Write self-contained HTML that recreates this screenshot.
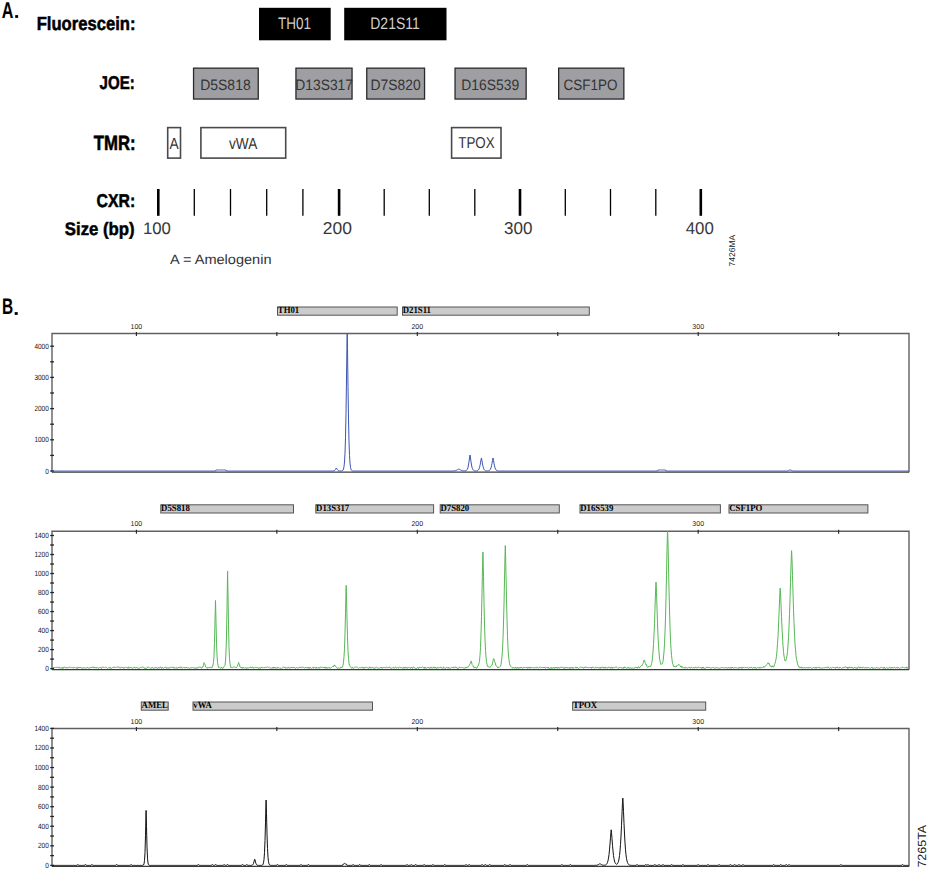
<!DOCTYPE html><html><head><meta charset="utf-8"><style>
html,body{margin:0;padding:0;background:#fff;width:929px;height:887px;overflow:hidden}
svg{display:block}
</style></head><body>
<svg style="text-rendering:geometricPrecision" width="929" height="887" viewBox="0 0 929 887">
<rect width="929" height="887" fill="#fff"/>

<rect x="15.2" y="15.1" width="2.9" height="2.8" fill="#000"/>
<rect x="14.7" y="312.1" width="3.0" height="2.8" fill="#000"/>
<rect x="259" y="7.8" width="71.69999999999999" height="32.5" fill="#000"/>
<rect x="344.2" y="7.8" width="102.30000000000001" height="32.5" fill="#000"/>
<rect x="193.55" y="68.15" width="64.69999999999997" height="30.900000000000002" fill="#9f9fa3" stroke="#2a2a2a" stroke-width="1.3"/>
<rect x="295.95" y="68.15" width="56.09999999999998" height="30.900000000000002" fill="#9f9fa3" stroke="#2a2a2a" stroke-width="1.3"/>
<rect x="366.75" y="68.15" width="57.79999999999997" height="30.900000000000002" fill="#9f9fa3" stroke="#2a2a2a" stroke-width="1.3"/>
<rect x="455.04999999999995" y="68.15" width="71.09999999999998" height="30.900000000000002" fill="#9f9fa3" stroke="#2a2a2a" stroke-width="1.3"/>
<rect x="558.65" y="68.15" width="65.2" height="30.900000000000002" fill="#9f9fa3" stroke="#2a2a2a" stroke-width="1.3"/>
<rect x="167.70000000000002" y="127.6" width="12.800000000000006" height="30.500000000000007" fill="#fff" stroke="#4a4a4a" stroke-width="1.6"/>
<rect x="200.9" y="127.6" width="84.80000000000001" height="30.500000000000007" fill="#fff" stroke="#4a4a4a" stroke-width="1.6"/>
<rect x="451.6" y="127.6" width="49.4" height="30.500000000000007" fill="#fff" stroke="#4a4a4a" stroke-width="1.6"/>
<line x1="158.3" y1="189.0" x2="158.3" y2="215.8" stroke="#000" stroke-width="2.6"/>
<line x1="194.3" y1="189.0" x2="194.3" y2="215.8" stroke="#000" stroke-width="1.3"/>
<line x1="230.5" y1="189.0" x2="230.5" y2="215.8" stroke="#000" stroke-width="1.3"/>
<line x1="266.7" y1="189.0" x2="266.7" y2="215.8" stroke="#000" stroke-width="1.3"/>
<line x1="302.9" y1="189.0" x2="302.9" y2="215.8" stroke="#000" stroke-width="1.3"/>
<line x1="339.1" y1="189.0" x2="339.1" y2="215.8" stroke="#000" stroke-width="2.6"/>
<line x1="384.2" y1="189.0" x2="384.2" y2="215.8" stroke="#000" stroke-width="1.3"/>
<line x1="429.3" y1="189.0" x2="429.3" y2="215.8" stroke="#000" stroke-width="1.3"/>
<line x1="474.8" y1="189.0" x2="474.8" y2="215.8" stroke="#000" stroke-width="1.3"/>
<line x1="520.0" y1="189.0" x2="520.0" y2="215.8" stroke="#000" stroke-width="2.6"/>
<line x1="565.3" y1="189.0" x2="565.3" y2="215.8" stroke="#000" stroke-width="1.3"/>
<line x1="610.5" y1="189.0" x2="610.5" y2="215.8" stroke="#000" stroke-width="1.3"/>
<line x1="655.8" y1="189.0" x2="655.8" y2="215.8" stroke="#000" stroke-width="1.3"/>
<line x1="700.8" y1="189.0" x2="700.8" y2="215.8" stroke="#000" stroke-width="2.6"/>
<rect x="277.5" y="307.0" width="119.69999999999999" height="8.2" fill="#cbcbcb" stroke="#555" stroke-width="1"/>
<text font-family="Liberation Serif, serif" font-size="9.5" font-weight="bold" fill="#000" transform="translate(277.8 313.4) scale(0.92 1)">TH01</text>
<rect x="402.5" y="307.0" width="186.79999999999995" height="8.2" fill="#cbcbcb" stroke="#555" stroke-width="1"/>
<text font-family="Liberation Serif, serif" font-size="9.5" font-weight="bold" fill="#000" transform="translate(402.8 313.4) scale(0.92 1)">D21S11</text>
<path d="M52 472.3 L52 333.5 L909 333.5 L909 472.3" fill="none" stroke="#606060" stroke-width="1.4"/>
<line x1="136.4" y1="331.9" x2="136.4" y2="335.9" stroke="#222" stroke-width="1.1"/>
<line x1="276.85" y1="331.9" x2="276.85" y2="335.9" stroke="#222" stroke-width="1.1"/>
<line x1="417.30000000000007" y1="331.9" x2="417.30000000000007" y2="335.9" stroke="#222" stroke-width="1.1"/>
<line x1="557.75" y1="331.9" x2="557.75" y2="335.9" stroke="#222" stroke-width="1.1"/>
<line x1="698.2" y1="331.9" x2="698.2" y2="335.9" stroke="#222" stroke-width="1.1"/>
<line x1="838.65" y1="331.9" x2="838.65" y2="335.9" stroke="#222" stroke-width="1.1"/>
<text font-family="Liberation Sans, sans-serif" font-size="7" fill="#222" text-anchor="middle" x="136.4" y="328.5">100</text>
<text font-family="Liberation Sans, sans-serif" font-size="7" fill="#222" text-anchor="middle" x="417.30000000000007" y="328.5">200</text>
<text font-family="Liberation Sans, sans-serif" font-size="7" fill="#222" text-anchor="middle" x="698.2" y="328.5">300</text>
<line x1="50.2" y1="471.0" x2="54" y2="471.0" stroke="#222" stroke-width="1.3"/>
<text font-family="Liberation Sans, sans-serif" font-size="7.5" fill="#111" text-anchor="end" transform="translate(48.8 473.5) scale(0.86 1)">0</text>
<line x1="50.2" y1="439.8" x2="54" y2="439.8" stroke="#222" stroke-width="1.3"/>
<text font-family="Liberation Sans, sans-serif" font-size="7.5" fill="#111" text-anchor="end" transform="translate(48.8 442.3) scale(0.86 1)">1000</text>
<line x1="50.2" y1="408.6" x2="54" y2="408.6" stroke="#222" stroke-width="1.3"/>
<text font-family="Liberation Sans, sans-serif" font-size="7.5" fill="#111" text-anchor="end" transform="translate(48.8 411.1) scale(0.86 1)">2000</text>
<line x1="50.2" y1="377.4" x2="54" y2="377.4" stroke="#222" stroke-width="1.3"/>
<text font-family="Liberation Sans, sans-serif" font-size="7.5" fill="#111" text-anchor="end" transform="translate(48.8 379.9) scale(0.86 1)">3000</text>
<line x1="50.2" y1="346.2" x2="54" y2="346.2" stroke="#222" stroke-width="1.3"/>
<text font-family="Liberation Sans, sans-serif" font-size="7.5" fill="#111" text-anchor="end" transform="translate(48.8 348.7) scale(0.86 1)">4000</text>
<line x1="50.2" y1="455.4" x2="54" y2="455.4" stroke="#222" stroke-width="1.3"/>
<line x1="50.2" y1="424.2" x2="54" y2="424.2" stroke="#222" stroke-width="1.3"/>
<line x1="50.2" y1="393.0" x2="54" y2="393.0" stroke="#222" stroke-width="1.3"/>
<line x1="50.2" y1="361.8" x2="54" y2="361.8" stroke="#222" stroke-width="1.3"/>
<line x1="52" y1="472.1" x2="909" y2="472.1" stroke="#3a3a3a" stroke-width="1.1"/>
<polyline fill="none" stroke="#3b55b0" stroke-width="1" points="52.50,471.00 53.00,471.00 53.50,471.00 54.00,471.00 54.50,471.00 55.00,471.00 55.50,471.00 56.00,471.00 56.50,471.00 57.00,471.00 57.50,471.00 58.00,471.00 58.50,471.00 59.00,471.00 59.50,471.00 60.00,471.00 60.50,471.00 61.00,471.00 61.50,471.00 62.00,471.00 62.50,471.00 63.00,471.00 63.50,471.00 64.00,471.00 64.50,471.00 65.00,471.00 65.50,471.00 66.00,471.00 66.50,471.00 67.00,471.00 67.50,471.00 68.00,471.00 68.50,471.00 69.00,471.00 69.50,471.00 70.00,471.00 70.50,471.00 71.00,471.00 71.50,471.00 72.00,471.00 72.50,471.00 73.00,471.00 73.50,471.00 74.00,471.00 74.50,471.00 75.00,471.00 75.50,471.00 76.00,471.00 76.50,471.00 77.00,471.00 77.50,471.00 78.00,471.00 78.50,471.00 79.00,471.00 79.50,471.00 80.00,471.00 80.50,471.00 81.00,471.00 81.50,471.00 82.00,471.00 82.50,471.00 83.00,471.00 83.50,471.00 84.00,471.00 84.50,471.00 85.00,471.00 85.50,471.00 86.00,471.00 86.50,471.00 87.00,471.00 87.50,471.00 88.00,471.00 88.50,471.00 89.00,471.00 89.50,471.00 90.00,471.00 90.50,471.00 91.00,471.00 91.50,471.00 92.00,471.00 92.50,471.00 93.00,471.00 93.50,471.00 94.00,471.00 94.50,471.00 95.00,471.00 95.50,471.00 96.00,471.00 96.50,471.00 97.00,471.00 97.50,471.00 98.00,471.00 98.50,471.00 99.00,471.00 99.50,471.00 100.00,471.00 100.50,471.00 101.00,471.00 101.50,471.00 102.00,471.00 102.50,471.00 103.00,471.00 103.50,471.00 104.00,471.00 104.50,471.00 105.00,471.00 105.50,471.00 106.00,471.00 106.50,471.00 107.00,471.00 107.50,471.00 108.00,471.00 108.50,471.00 109.00,471.00 109.50,471.00 110.00,471.00 110.50,471.00 111.00,471.00 111.50,471.00 112.00,471.00 112.50,471.00 113.00,471.00 113.50,471.00 114.00,471.00 114.50,471.00 115.00,471.00 115.50,471.00 116.00,471.00 116.50,471.00 117.00,471.00 117.50,471.00 118.00,471.00 118.50,471.00 119.00,471.00 119.50,471.00 120.00,471.00 120.50,471.00 121.00,471.00 121.50,471.00 122.00,471.00 122.50,471.00 123.00,471.00 123.50,471.00 124.00,471.00 124.50,471.00 125.00,471.00 125.50,471.00 126.00,471.00 126.50,471.00 127.00,471.00 127.50,471.00 128.00,471.00 128.50,471.00 129.00,471.00 129.50,471.00 130.00,471.00 130.50,471.00 131.00,471.00 131.50,471.00 132.00,471.00 132.50,471.00 133.00,471.00 133.50,471.00 134.00,471.00 134.50,471.00 135.00,471.00 135.50,471.00 136.00,471.00 136.50,471.00 137.00,471.00 137.50,471.00 138.00,471.00 138.50,471.00 139.00,471.00 139.50,471.00 140.00,471.00 140.50,471.00 141.00,471.00 141.50,471.00 142.00,471.00 142.50,471.00 143.00,471.00 143.50,471.00 144.00,471.00 144.50,471.00 145.00,471.00 145.50,471.00 146.00,471.00 146.50,471.00 147.00,471.00 147.50,471.00 148.00,471.00 148.50,471.00 149.00,471.00 149.50,471.00 150.00,471.00 150.50,471.00 151.00,471.00 151.50,471.00 152.00,471.00 152.50,471.00 153.00,471.00 153.50,471.00 154.00,471.00 154.50,471.00 155.00,471.00 155.50,471.00 156.00,471.00 156.50,471.00 157.00,471.00 157.50,471.00 158.00,471.00 158.50,471.00 159.00,471.00 159.50,471.00 160.00,471.00 160.50,471.00 161.00,471.00 161.50,471.00 162.00,471.00 162.50,471.00 163.00,471.00 163.50,471.00 164.00,471.00 164.50,471.00 165.00,471.00 165.50,471.00 166.00,471.00 166.50,471.00 167.00,471.00 167.50,471.00 168.00,471.00 168.50,471.00 169.00,471.00 169.50,471.00 170.00,471.00 170.50,471.00 171.00,471.00 171.50,471.00 172.00,471.00 172.50,471.00 173.00,471.00 173.50,471.00 174.00,471.00 174.50,471.00 175.00,471.00 175.50,471.00 176.00,471.00 176.50,471.00 177.00,471.00 177.50,471.00 178.00,471.00 178.50,471.00 179.00,471.00 179.50,471.00 180.00,471.00 180.50,471.00 181.00,471.00 181.50,471.00 182.00,471.00 182.50,471.00 183.00,471.00 183.50,471.00 184.00,471.00 184.50,471.00 185.00,471.00 185.50,471.00 186.00,471.00 186.50,471.00 187.00,471.00 187.50,471.00 188.00,471.00 188.50,471.00 189.00,471.00 189.50,471.00 190.00,471.00 190.50,471.00 191.00,471.00 191.50,471.00 192.00,471.00 192.50,471.00 193.00,471.00 193.50,471.00 194.00,471.00 194.50,471.00 195.00,471.00 195.50,471.00 196.00,471.00 196.50,471.00 197.00,471.00 197.50,471.00 198.00,471.00 198.50,471.00 199.00,471.00 199.50,471.00 200.00,471.00 200.50,471.00 201.00,471.00 201.50,471.00 202.00,471.00 202.50,471.00 203.00,471.00 203.50,471.00 204.00,471.00 204.50,471.00 205.00,471.00 205.50,471.00 206.00,471.00 206.50,471.00 207.00,471.00 207.50,471.00 208.00,471.00 208.50,471.00 209.00,471.00 209.50,471.00 210.00,471.00 210.50,471.00 211.00,471.00 211.50,471.00 212.00,471.00 212.50,471.00 213.00,471.00 213.50,471.00 214.00,471.00 214.50,471.00 215.00,471.00 215.50,471.00 216.00,470.00 216.50,470.00 217.00,470.00 217.50,470.00 218.00,470.00 218.50,470.00 219.00,470.00 219.50,470.00 220.00,470.00 220.50,470.00 221.00,470.00 221.50,470.00 222.00,470.00 222.50,470.00 223.00,470.00 223.50,470.00 224.00,470.00 224.50,470.00 225.00,470.00 225.50,470.00 226.00,470.00 226.50,471.00 227.00,471.00 227.50,471.00 228.00,471.00 228.50,471.00 229.00,471.00 229.50,471.00 230.00,471.00 230.50,471.00 231.00,471.00 231.50,471.00 232.00,471.00 232.50,471.00 233.00,471.00 233.50,471.00 234.00,471.00 234.50,471.00 235.00,471.00 235.50,471.00 236.00,471.00 236.50,471.00 237.00,471.00 237.50,471.00 238.00,471.00 238.50,471.00 239.00,471.00 239.50,471.00 240.00,471.00 240.50,471.00 241.00,471.00 241.50,471.00 242.00,471.00 242.50,471.00 243.00,471.00 243.50,471.00 244.00,471.00 244.50,471.00 245.00,471.00 245.50,471.00 246.00,471.00 246.50,471.00 247.00,471.00 247.50,471.00 248.00,471.00 248.50,471.00 249.00,471.00 249.50,471.00 250.00,471.00 250.50,471.00 251.00,471.00 251.50,471.00 252.00,471.00 252.50,471.00 253.00,471.00 253.50,471.00 254.00,471.00 254.50,471.00 255.00,471.00 255.50,471.00 256.00,471.00 256.50,471.00 257.00,471.00 257.50,471.00 258.00,471.00 258.50,471.00 259.00,471.00 259.50,471.00 260.00,471.00 260.50,471.00 261.00,471.00 261.50,471.00 262.00,471.00 262.50,471.00 263.00,471.00 263.50,471.00 264.00,471.00 264.50,471.00 265.00,471.00 265.50,471.00 266.00,471.00 266.50,471.00 267.00,471.00 267.50,471.00 268.00,471.00 268.50,471.00 269.00,471.00 269.50,471.00 270.00,471.00 270.50,471.00 271.00,471.00 271.50,471.00 272.00,471.00 272.50,471.00 273.00,471.00 273.50,471.00 274.00,471.00 274.50,471.00 275.00,471.00 275.50,471.00 276.00,471.00 276.50,471.00 277.00,471.00 277.50,471.00 278.00,471.00 278.50,471.00 279.00,471.00 279.50,471.00 280.00,471.00 280.50,471.00 281.00,471.00 281.50,471.00 282.00,471.00 282.50,471.00 283.00,471.00 283.50,471.00 284.00,471.00 284.50,471.00 285.00,471.00 285.50,471.00 286.00,471.00 286.50,471.00 287.00,471.00 287.50,471.00 288.00,471.00 288.50,471.00 289.00,471.00 289.50,471.00 290.00,471.00 290.50,471.00 291.00,471.00 291.50,471.00 292.00,471.00 292.50,471.00 293.00,471.00 293.50,471.00 294.00,471.00 294.50,471.00 295.00,471.00 295.50,471.00 296.00,471.00 296.50,471.00 297.00,471.00 297.50,471.00 298.00,471.00 298.50,471.00 299.00,471.00 299.50,471.00 300.00,471.00 300.50,471.00 301.00,471.00 301.50,471.00 302.00,471.00 302.50,471.00 303.00,471.00 303.50,471.00 304.00,471.00 304.50,471.00 305.00,471.00 305.50,471.00 306.00,471.00 306.50,471.00 307.00,471.00 307.50,471.00 308.00,471.00 308.50,471.00 309.00,471.00 309.50,471.00 310.00,471.00 310.50,471.00 311.00,471.00 311.50,471.00 312.00,471.00 312.50,471.00 313.00,471.00 313.50,471.00 314.00,471.00 314.50,471.00 315.00,471.00 315.50,471.00 316.00,471.00 316.50,471.00 317.00,471.00 317.50,471.00 318.00,471.00 318.50,471.00 319.00,471.00 319.50,471.00 320.00,471.00 320.50,471.00 321.00,471.00 321.50,471.00 322.00,471.00 322.50,471.00 323.00,471.00 323.50,471.00 324.00,471.00 324.50,471.00 325.00,471.00 325.50,471.00 326.00,471.00 326.50,471.00 327.00,471.00 327.50,471.00 328.00,471.00 328.50,471.00 329.00,471.00 329.50,471.00 330.00,471.00 330.50,471.00 331.00,471.00 331.50,471.00 332.00,470.99 332.50,470.98 333.00,470.96 333.50,470.90 334.00,470.78 334.50,470.53 335.00,470.07 335.50,469.34 336.00,468.42 336.30,468.00 336.50,468.24 337.00,469.17 337.50,469.95 338.00,470.45 338.50,470.74 339.00,470.88 339.50,470.95 340.00,470.98 340.50,470.98 341.00,470.98 341.50,470.94 342.00,470.85 342.50,470.63 343.00,470.13 343.50,469.02 344.00,466.67 344.50,461.97 345.00,453.16 345.50,437.76 346.00,413.27 346.50,379.04 347.00,341.59 347.20,333.50 347.50,348.48 348.00,386.53 348.50,418.98 349.00,441.50 349.50,455.36 350.00,463.18 350.50,467.28 351.00,469.31 351.50,470.27 352.00,470.69 352.50,470.88 353.00,470.95 353.50,470.98 354.00,470.99 354.50,471.00 355.00,471.00 355.50,471.00 356.00,471.00 356.50,471.00 357.00,471.00 357.50,471.00 358.00,471.00 358.50,471.00 359.00,471.00 359.50,471.00 360.00,471.00 360.50,471.00 361.00,471.00 361.50,471.00 362.00,471.00 362.50,471.00 363.00,471.00 363.50,471.00 364.00,471.00 364.50,471.00 365.00,471.00 365.50,471.00 366.00,471.00 366.50,471.00 367.00,471.00 367.50,471.00 368.00,471.00 368.50,471.00 369.00,471.00 369.50,471.00 370.00,471.00 370.50,471.00 371.00,471.00 371.50,471.00 372.00,471.00 372.50,471.00 373.00,471.00 373.50,471.00 374.00,471.00 374.50,471.00 375.00,471.00 375.50,471.00 376.00,471.00 376.50,471.00 377.00,471.00 377.50,471.00 378.00,471.00 378.50,471.00 379.00,471.00 379.50,471.00 380.00,471.00 380.50,471.00 381.00,471.00 381.50,471.00 382.00,471.00 382.50,471.00 383.00,471.00 383.50,471.00 384.00,471.00 384.50,471.00 385.00,471.00 385.50,471.00 386.00,471.00 386.50,471.00 387.00,471.00 387.50,471.00 388.00,471.00 388.50,471.00 389.00,471.00 389.50,471.00 390.00,471.00 390.50,471.00 391.00,471.00 391.50,471.00 392.00,471.00 392.50,471.00 393.00,471.00 393.50,471.00 394.00,471.00 394.50,471.00 395.00,471.00 395.50,471.00 396.00,471.00 396.50,471.00 397.00,471.00 397.50,471.00 398.00,471.00 398.50,471.00 399.00,471.00 399.50,471.00 400.00,471.00 400.50,471.00 401.00,471.00 401.50,471.00 402.00,471.00 402.50,471.00 403.00,471.00 403.50,471.00 404.00,471.00 404.50,471.00 405.00,471.00 405.50,471.00 406.00,471.00 406.50,471.00 407.00,471.00 407.50,471.00 408.00,471.00 408.50,471.00 409.00,471.00 409.50,471.00 410.00,471.00 410.50,471.00 411.00,471.00 411.50,471.00 412.00,471.00 412.50,471.00 413.00,471.00 413.50,471.00 414.00,471.00 414.50,471.00 415.00,471.00 415.50,471.00 416.00,471.00 416.50,471.00 417.00,471.00 417.50,471.00 418.00,471.00 418.50,471.00 419.00,471.00 419.50,471.00 420.00,471.00 420.50,471.00 421.00,471.00 421.50,471.00 422.00,471.00 422.50,471.00 423.00,471.00 423.50,471.00 424.00,471.00 424.50,471.00 425.00,471.00 425.50,471.00 426.00,471.00 426.50,471.00 427.00,471.00 427.50,471.00 428.00,471.00 428.50,471.00 429.00,471.00 429.50,471.00 430.00,471.00 430.50,471.00 431.00,471.00 431.50,471.00 432.00,471.00 432.50,471.00 433.00,471.00 433.50,471.00 434.00,471.00 434.50,471.00 435.00,471.00 435.50,471.00 436.00,471.00 436.50,471.00 437.00,471.00 437.50,471.00 438.00,471.00 438.50,471.00 439.00,471.00 439.50,471.00 440.00,471.00 440.50,471.00 441.00,471.00 441.50,471.00 442.00,471.00 442.50,471.00 443.00,471.00 443.50,471.00 444.00,471.00 444.50,471.00 445.00,471.00 445.50,471.00 446.00,471.00 446.50,471.00 447.00,471.00 447.50,471.00 448.00,471.00 448.50,471.00 449.00,471.00 449.50,471.00 450.00,471.00 450.50,470.99 451.00,470.99 451.50,470.98 452.00,470.98 452.50,470.96 453.00,470.94 453.50,470.91 454.00,470.86 454.50,470.80 455.00,470.71 455.50,470.59 456.00,470.44 456.50,470.24 457.00,469.99 457.50,469.70 458.00,469.39 458.50,469.11 458.80,469.00 459.00,469.06 459.50,469.33 460.00,469.64 460.50,469.93 461.00,470.19 461.50,470.40 462.00,470.56 462.50,470.69 463.00,470.78 463.50,470.85 464.00,470.88 464.50,470.90 465.00,470.88 465.50,470.80 466.00,470.65 466.50,470.34 467.00,469.78 467.50,468.83 468.00,467.30 468.50,464.98 469.00,461.81 469.50,458.03 470.00,455.00 470.50,458.03 471.00,461.81 471.50,464.99 472.00,467.30 472.50,468.84 473.00,469.79 473.50,470.35 474.00,470.66 474.50,470.83 475.00,470.91 475.50,470.94 476.00,470.94 476.50,470.91 477.00,470.82 477.50,470.66 478.00,470.36 478.50,469.83 479.00,468.95 479.50,467.57 480.00,465.54 480.50,462.86 481.00,459.81 481.40,458.00 481.50,458.28 482.00,461.03 482.50,464.00 483.00,466.44 483.50,468.19 484.00,469.35 484.50,470.07 485.00,470.50 485.50,470.74 486.00,470.86 486.50,470.93 487.00,470.95 487.50,470.94 488.00,470.91 488.50,470.83 489.00,470.67 489.50,470.39 490.00,469.90 490.50,469.08 491.00,467.79 491.50,465.89 492.00,463.35 492.50,460.36 493.00,458.00 493.50,460.36 494.00,463.35 494.50,465.89 495.00,467.79 495.50,469.08 496.00,469.90 496.50,470.39 497.00,470.67 497.50,470.83 498.00,470.92 498.50,470.96 499.00,470.98 499.50,470.99 500.00,471.00 500.50,471.00 501.00,471.00 501.50,471.00 502.00,471.00 502.50,471.00 503.00,471.00 503.50,471.00 504.00,471.00 504.50,471.00 505.00,471.00 505.50,471.00 506.00,471.00 506.50,471.00 507.00,471.00 507.50,471.00 508.00,471.00 508.50,471.00 509.00,471.00 509.50,471.00 510.00,471.00 510.50,471.00 511.00,471.00 511.50,471.00 512.00,471.00 512.50,471.00 513.00,471.00 513.50,471.00 514.00,471.00 514.50,471.00 515.00,471.00 515.50,471.00 516.00,471.00 516.50,471.00 517.00,471.00 517.50,471.00 518.00,471.00 518.50,471.00 519.00,471.00 519.50,471.00 520.00,471.00 520.50,471.00 521.00,471.00 521.50,471.00 522.00,471.00 522.50,471.00 523.00,471.00 523.50,471.00 524.00,471.00 524.50,471.00 525.00,471.00 525.50,471.00 526.00,471.00 526.50,471.00 527.00,471.00 527.50,471.00 528.00,471.00 528.50,471.00 529.00,471.00 529.50,471.00 530.00,471.00 530.50,471.00 531.00,471.00 531.50,471.00 532.00,471.00 532.50,471.00 533.00,471.00 533.50,471.00 534.00,471.00 534.50,471.00 535.00,471.00 535.50,471.00 536.00,471.00 536.50,471.00 537.00,471.00 537.50,471.00 538.00,471.00 538.50,471.00 539.00,471.00 539.50,471.00 540.00,471.00 540.50,471.00 541.00,471.00 541.50,471.00 542.00,471.00 542.50,471.00 543.00,471.00 543.50,471.00 544.00,471.00 544.50,471.00 545.00,471.00 545.50,471.00 546.00,471.00 546.50,471.00 547.00,471.00 547.50,471.00 548.00,471.00 548.50,471.00 549.00,471.00 549.50,471.00 550.00,471.00 550.50,471.00 551.00,471.00 551.50,471.00 552.00,471.00 552.50,471.00 553.00,471.00 553.50,471.00 554.00,471.00 554.50,471.00 555.00,471.00 555.50,471.00 556.00,471.00 556.50,471.00 557.00,471.00 557.50,471.00 558.00,471.00 558.50,471.00 559.00,471.00 559.50,471.00 560.00,471.00 560.50,471.00 561.00,471.00 561.50,471.00 562.00,471.00 562.50,471.00 563.00,471.00 563.50,471.00 564.00,471.00 564.50,471.00 565.00,471.00 565.50,471.00 566.00,471.00 566.50,471.00 567.00,471.00 567.50,471.00 568.00,471.00 568.50,471.00 569.00,471.00 569.50,471.00 570.00,471.00 570.50,471.00 571.00,471.00 571.50,471.00 572.00,471.00 572.50,471.00 573.00,471.00 573.50,471.00 574.00,471.00 574.50,471.00 575.00,471.00 575.50,471.00 576.00,471.00 576.50,471.00 577.00,471.00 577.50,471.00 578.00,471.00 578.50,471.00 579.00,471.00 579.50,471.00 580.00,471.00 580.50,471.00 581.00,471.00 581.50,471.00 582.00,471.00 582.50,471.00 583.00,471.00 583.50,471.00 584.00,471.00 584.50,471.00 585.00,471.00 585.50,471.00 586.00,471.00 586.50,471.00 587.00,471.00 587.50,471.00 588.00,471.00 588.50,471.00 589.00,471.00 589.50,471.00 590.00,471.00 590.50,471.00 591.00,471.00 591.50,471.00 592.00,471.00 592.50,471.00 593.00,471.00 593.50,471.00 594.00,471.00 594.50,471.00 595.00,471.00 595.50,471.00 596.00,471.00 596.50,471.00 597.00,471.00 597.50,471.00 598.00,471.00 598.50,471.00 599.00,471.00 599.50,471.00 600.00,471.00 600.50,471.00 601.00,471.00 601.50,471.00 602.00,471.00 602.50,471.00 603.00,471.00 603.50,471.00 604.00,471.00 604.50,471.00 605.00,471.00 605.50,471.00 606.00,471.00 606.50,471.00 607.00,471.00 607.50,471.00 608.00,471.00 608.50,471.00 609.00,471.00 609.50,471.00 610.00,471.00 610.50,471.00 611.00,471.00 611.50,471.00 612.00,471.00 612.50,471.00 613.00,471.00 613.50,471.00 614.00,471.00 614.50,471.00 615.00,471.00 615.50,471.00 616.00,471.00 616.50,471.00 617.00,471.00 617.50,471.00 618.00,471.00 618.50,471.00 619.00,471.00 619.50,471.00 620.00,471.00 620.50,471.00 621.00,471.00 621.50,471.00 622.00,471.00 622.50,471.00 623.00,471.00 623.50,471.00 624.00,471.00 624.50,471.00 625.00,471.00 625.50,471.00 626.00,471.00 626.50,471.00 627.00,471.00 627.50,471.00 628.00,471.00 628.50,471.00 629.00,471.00 629.50,471.00 630.00,471.00 630.50,471.00 631.00,471.00 631.50,471.00 632.00,471.00 632.50,471.00 633.00,471.00 633.50,471.00 634.00,471.00 634.50,471.00 635.00,471.00 635.50,471.00 636.00,471.00 636.50,471.00 637.00,471.00 637.50,471.00 638.00,471.00 638.50,471.00 639.00,471.00 639.50,471.00 640.00,471.00 640.50,471.00 641.00,471.00 641.50,471.00 642.00,471.00 642.50,471.00 643.00,471.00 643.50,471.00 644.00,471.00 644.50,471.00 645.00,471.00 645.50,471.00 646.00,471.00 646.50,471.00 647.00,471.00 647.50,471.00 648.00,471.00 648.50,471.00 649.00,471.00 649.50,471.00 650.00,471.00 650.50,471.00 651.00,471.00 651.50,471.00 652.00,471.00 652.50,471.00 653.00,471.00 653.50,471.00 654.00,471.00 654.50,471.00 655.00,471.00 655.50,471.00 656.00,471.00 656.50,471.00 657.00,471.00 657.50,471.00 658.00,470.00 658.50,470.00 659.00,470.00 659.50,470.00 660.00,470.00 660.50,470.00 661.00,470.00 661.50,470.00 662.00,470.00 662.50,470.00 663.00,470.00 663.50,470.00 664.00,470.00 664.50,470.00 665.00,470.00 665.50,470.00 666.00,471.00 666.50,471.00 667.00,471.00 667.50,471.00 668.00,471.00 668.50,471.00 669.00,471.00 669.50,471.00 670.00,471.00 670.50,471.00 671.00,471.00 671.50,471.00 672.00,471.00 672.50,471.00 673.00,471.00 673.50,471.00 674.00,471.00 674.50,471.00 675.00,471.00 675.50,471.00 676.00,471.00 676.50,471.00 677.00,471.00 677.50,471.00 678.00,471.00 678.50,471.00 679.00,471.00 679.50,471.00 680.00,471.00 680.50,471.00 681.00,471.00 681.50,471.00 682.00,471.00 682.50,471.00 683.00,471.00 683.50,471.00 684.00,471.00 684.50,471.00 685.00,471.00 685.50,471.00 686.00,471.00 686.50,471.00 687.00,471.00 687.50,471.00 688.00,471.00 688.50,471.00 689.00,471.00 689.50,471.00 690.00,471.00 690.50,471.00 691.00,471.00 691.50,471.00 692.00,471.00 692.50,471.00 693.00,471.00 693.50,471.00 694.00,471.00 694.50,471.00 695.00,471.00 695.50,471.00 696.00,471.00 696.50,471.00 697.00,471.00 697.50,471.00 698.00,471.00 698.50,471.00 699.00,471.00 699.50,471.00 700.00,471.00 700.50,471.00 701.00,471.00 701.50,471.00 702.00,471.00 702.50,471.00 703.00,471.00 703.50,471.00 704.00,471.00 704.50,471.00 705.00,471.00 705.50,471.00 706.00,471.00 706.50,471.00 707.00,471.00 707.50,471.00 708.00,471.00 708.50,471.00 709.00,471.00 709.50,471.00 710.00,471.00 710.50,471.00 711.00,471.00 711.50,471.00 712.00,471.00 712.50,471.00 713.00,471.00 713.50,471.00 714.00,471.00 714.50,471.00 715.00,471.00 715.50,471.00 716.00,471.00 716.50,471.00 717.00,471.00 717.50,471.00 718.00,471.00 718.50,471.00 719.00,471.00 719.50,471.00 720.00,471.00 720.50,471.00 721.00,471.00 721.50,471.00 722.00,471.00 722.50,471.00 723.00,471.00 723.50,471.00 724.00,471.00 724.50,471.00 725.00,471.00 725.50,471.00 726.00,471.00 726.50,471.00 727.00,471.00 727.50,471.00 728.00,471.00 728.50,471.00 729.00,471.00 729.50,471.00 730.00,471.00 730.50,471.00 731.00,471.00 731.50,471.00 732.00,471.00 732.50,471.00 733.00,471.00 733.50,471.00 734.00,471.00 734.50,471.00 735.00,471.00 735.50,471.00 736.00,471.00 736.50,471.00 737.00,471.00 737.50,471.00 738.00,471.00 738.50,471.00 739.00,471.00 739.50,471.00 740.00,471.00 740.50,471.00 741.00,471.00 741.50,471.00 742.00,471.00 742.50,471.00 743.00,471.00 743.50,471.00 744.00,471.00 744.50,471.00 745.00,471.00 745.50,471.00 746.00,471.00 746.50,471.00 747.00,471.00 747.50,471.00 748.00,471.00 748.50,471.00 749.00,471.00 749.50,471.00 750.00,471.00 750.50,471.00 751.00,471.00 751.50,471.00 752.00,471.00 752.50,471.00 753.00,471.00 753.50,471.00 754.00,471.00 754.50,471.00 755.00,471.00 755.50,471.00 756.00,471.00 756.50,471.00 757.00,471.00 757.50,471.00 758.00,471.00 758.50,471.00 759.00,471.00 759.50,471.00 760.00,471.00 760.50,471.00 761.00,471.00 761.50,471.00 762.00,471.00 762.50,471.00 763.00,471.00 763.50,471.00 764.00,471.00 764.50,471.00 765.00,471.00 765.50,471.00 766.00,471.00 766.50,471.00 767.00,471.00 767.50,471.00 768.00,471.00 768.50,471.00 769.00,471.00 769.50,471.00 770.00,471.00 770.50,471.00 771.00,471.00 771.50,471.00 772.00,471.00 772.50,471.00 773.00,471.00 773.50,471.00 774.00,471.00 774.50,471.00 775.00,471.00 775.50,471.00 776.00,471.00 776.50,471.00 777.00,471.00 777.50,471.00 778.00,471.00 778.50,471.00 779.00,471.00 779.50,471.00 780.00,471.00 780.50,471.00 781.00,471.00 781.50,471.00 782.00,471.00 782.50,471.00 783.00,471.00 783.50,471.00 784.00,471.00 784.50,471.00 785.00,471.00 785.50,471.00 786.00,471.00 786.50,470.99 787.00,470.96 787.50,470.90 788.00,470.75 788.50,470.46 789.00,470.05 789.20,469.92 789.50,470.04 790.00,470.21 790.50,470.13 791.00,469.92 791.50,470.31 792.00,470.65 792.50,470.85 793.00,470.94 793.50,470.98 794.00,470.99 794.50,471.00 795.00,471.00 795.50,471.00 796.00,471.00 796.50,471.00 797.00,471.00 797.50,471.00 798.00,471.00 798.50,471.00 799.00,471.00 799.50,471.00 800.00,471.00 800.50,471.00 801.00,471.00 801.50,471.00 802.00,471.00 802.50,471.00 803.00,471.00 803.50,471.00 804.00,471.00 804.50,471.00 805.00,471.00 805.50,471.00 806.00,471.00 806.50,471.00 807.00,471.00 807.50,471.00 808.00,471.00 808.50,471.00 809.00,471.00 809.50,471.00 810.00,471.00 810.50,471.00 811.00,471.00 811.50,471.00 812.00,471.00 812.50,471.00 813.00,471.00 813.50,471.00 814.00,471.00 814.50,471.00 815.00,471.00 815.50,471.00 816.00,471.00 816.50,471.00 817.00,471.00 817.50,471.00 818.00,471.00 818.50,471.00 819.00,471.00 819.50,471.00 820.00,471.00 820.50,471.00 821.00,471.00 821.50,471.00 822.00,471.00 822.50,471.00 823.00,471.00 823.50,471.00 824.00,471.00 824.50,471.00 825.00,471.00 825.50,471.00 826.00,471.00 826.50,471.00 827.00,471.00 827.50,471.00 828.00,471.00 828.50,471.00 829.00,471.00 829.50,471.00 830.00,471.00 830.50,471.00 831.00,471.00 831.50,471.00 832.00,471.00 832.50,471.00 833.00,471.00 833.50,471.00 834.00,471.00 834.50,471.00 835.00,471.00 835.50,471.00 836.00,471.00 836.50,471.00 837.00,471.00 837.50,471.00 838.00,471.00 838.50,471.00 839.00,471.00 839.50,471.00 840.00,471.00 840.50,471.00 841.00,471.00 841.50,471.00 842.00,471.00 842.50,471.00 843.00,471.00 843.50,471.00 844.00,471.00 844.50,471.00 845.00,471.00 845.50,471.00 846.00,471.00 846.50,471.00 847.00,471.00 847.50,471.00 848.00,471.00 848.50,471.00 849.00,471.00 849.50,471.00 850.00,471.00 850.50,471.00 851.00,471.00 851.50,471.00 852.00,471.00 852.50,471.00 853.00,471.00 853.50,471.00 854.00,471.00 854.50,471.00 855.00,471.00 855.50,471.00 856.00,471.00 856.50,471.00 857.00,471.00 857.50,471.00 858.00,471.00 858.50,471.00 859.00,471.00 859.50,471.00 860.00,471.00 860.50,471.00 861.00,471.00 861.50,471.00 862.00,471.00 862.50,471.00 863.00,471.00 863.50,471.00 864.00,471.00 864.50,471.00 865.00,471.00 865.50,471.00 866.00,471.00 866.50,471.00 867.00,471.00 867.50,471.00 868.00,471.00 868.50,471.00 869.00,471.00 869.50,471.00 870.00,471.00 870.50,471.00 871.00,471.00 871.50,471.00 872.00,471.00 872.50,471.00 873.00,471.00 873.50,471.00 874.00,471.00 874.50,471.00 875.00,471.00 875.50,471.00 876.00,471.00 876.50,471.00 877.00,471.00 877.50,471.00 878.00,471.00 878.50,471.00 879.00,471.00 879.50,471.00 880.00,471.00 880.50,471.00 881.00,471.00 881.50,471.00 882.00,471.00 882.50,471.00 883.00,471.00 883.50,471.00 884.00,471.00 884.50,471.00 885.00,471.00 885.50,471.00 886.00,471.00 886.50,471.00 887.00,471.00 887.50,471.00 888.00,471.00 888.50,471.00 889.00,471.00 889.50,471.00 890.00,471.00 890.50,471.00 891.00,471.00 891.50,471.00 892.00,471.00 892.50,471.00 893.00,471.00 893.50,471.00 894.00,471.00 894.50,471.00 895.00,471.00 895.50,471.00 896.00,471.00 896.50,471.00 897.00,471.00 897.50,471.00 898.00,471.00 898.50,471.00 899.00,471.00 899.50,471.00 900.00,471.00 900.50,471.00 901.00,471.00 901.50,471.00 902.00,471.00 902.50,471.00 903.00,471.00 903.50,471.00 904.00,471.00 904.50,471.00 905.00,471.00 905.50,471.00 906.00,471.00 906.50,471.00 907.00,471.00 907.50,471.00 908.00,471.00 908.50,471.00"/>
<rect x="160.8" y="504.79999999999995" width="132.7" height="8.2" fill="#cbcbcb" stroke="#555" stroke-width="1"/>
<text font-family="Liberation Serif, serif" font-size="9.5" font-weight="bold" fill="#000" transform="translate(161.10000000000002 511.19999999999993) scale(0.92 1)">D5S818</text>
<rect x="315.8" y="504.79999999999995" width="117.80000000000001" height="8.2" fill="#cbcbcb" stroke="#555" stroke-width="1"/>
<text font-family="Liberation Serif, serif" font-size="9.5" font-weight="bold" fill="#000" transform="translate(316.1 511.19999999999993) scale(0.92 1)">D13S317</text>
<rect x="440.2" y="504.79999999999995" width="119.09999999999997" height="8.2" fill="#cbcbcb" stroke="#555" stroke-width="1"/>
<text font-family="Liberation Serif, serif" font-size="9.5" font-weight="bold" fill="#000" transform="translate(440.5 511.19999999999993) scale(0.92 1)">D7S820</text>
<rect x="580.0" y="504.79999999999995" width="140.39999999999998" height="8.2" fill="#cbcbcb" stroke="#555" stroke-width="1"/>
<text font-family="Liberation Serif, serif" font-size="9.5" font-weight="bold" fill="#000" transform="translate(580.3 511.19999999999993) scale(0.92 1)">D16S539</text>
<rect x="729.0" y="504.79999999999995" width="138.89999999999998" height="8.2" fill="#cbcbcb" stroke="#555" stroke-width="1"/>
<text font-family="Liberation Serif, serif" font-size="9.5" font-weight="bold" fill="#000" transform="translate(729.3 511.19999999999993) scale(0.92 1)">CSF1PO</text>
<path d="M52 669.8 L52 531.3 L909 531.3 L909 669.8" fill="none" stroke="#606060" stroke-width="1.4"/>
<line x1="136.4" y1="529.6999999999999" x2="136.4" y2="533.6999999999999" stroke="#222" stroke-width="1.1"/>
<line x1="276.85" y1="529.6999999999999" x2="276.85" y2="533.6999999999999" stroke="#222" stroke-width="1.1"/>
<line x1="417.30000000000007" y1="529.6999999999999" x2="417.30000000000007" y2="533.6999999999999" stroke="#222" stroke-width="1.1"/>
<line x1="557.75" y1="529.6999999999999" x2="557.75" y2="533.6999999999999" stroke="#222" stroke-width="1.1"/>
<line x1="698.2" y1="529.6999999999999" x2="698.2" y2="533.6999999999999" stroke="#222" stroke-width="1.1"/>
<line x1="838.65" y1="529.6999999999999" x2="838.65" y2="533.6999999999999" stroke="#222" stroke-width="1.1"/>
<text font-family="Liberation Sans, sans-serif" font-size="7" fill="#222" text-anchor="middle" x="136.4" y="526.3">100</text>
<text font-family="Liberation Sans, sans-serif" font-size="7" fill="#222" text-anchor="middle" x="417.30000000000007" y="526.3">200</text>
<text font-family="Liberation Sans, sans-serif" font-size="7" fill="#222" text-anchor="middle" x="698.2" y="526.3">300</text>
<line x1="50.2" y1="668.6" x2="54" y2="668.6" stroke="#222" stroke-width="1.3"/>
<text font-family="Liberation Sans, sans-serif" font-size="7.5" fill="#111" text-anchor="end" transform="translate(48.8 671.1) scale(0.86 1)">0</text>
<line x1="50.2" y1="649.586" x2="54" y2="649.586" stroke="#222" stroke-width="1.3"/>
<text font-family="Liberation Sans, sans-serif" font-size="7.5" fill="#111" text-anchor="end" transform="translate(48.8 652.086) scale(0.86 1)">200</text>
<line x1="50.2" y1="630.572" x2="54" y2="630.572" stroke="#222" stroke-width="1.3"/>
<text font-family="Liberation Sans, sans-serif" font-size="7.5" fill="#111" text-anchor="end" transform="translate(48.8 633.072) scale(0.86 1)">400</text>
<line x1="50.2" y1="611.558" x2="54" y2="611.558" stroke="#222" stroke-width="1.3"/>
<text font-family="Liberation Sans, sans-serif" font-size="7.5" fill="#111" text-anchor="end" transform="translate(48.8 614.058) scale(0.86 1)">600</text>
<line x1="50.2" y1="592.544" x2="54" y2="592.544" stroke="#222" stroke-width="1.3"/>
<text font-family="Liberation Sans, sans-serif" font-size="7.5" fill="#111" text-anchor="end" transform="translate(48.8 595.044) scale(0.86 1)">800</text>
<line x1="50.2" y1="573.53" x2="54" y2="573.53" stroke="#222" stroke-width="1.3"/>
<text font-family="Liberation Sans, sans-serif" font-size="7.5" fill="#111" text-anchor="end" transform="translate(48.8 576.03) scale(0.86 1)">1000</text>
<line x1="50.2" y1="554.516" x2="54" y2="554.516" stroke="#222" stroke-width="1.3"/>
<text font-family="Liberation Sans, sans-serif" font-size="7.5" fill="#111" text-anchor="end" transform="translate(48.8 557.016) scale(0.86 1)">1200</text>
<line x1="50.2" y1="535.5020000000001" x2="54" y2="535.5020000000001" stroke="#222" stroke-width="1.3"/>
<text font-family="Liberation Sans, sans-serif" font-size="7.5" fill="#111" text-anchor="end" transform="translate(48.8 538.0020000000001) scale(0.86 1)">1400</text>
<line x1="50.2" y1="659.0930000000001" x2="54" y2="659.0930000000001" stroke="#222" stroke-width="1.3"/>
<line x1="50.2" y1="640.0790000000001" x2="54" y2="640.0790000000001" stroke="#222" stroke-width="1.3"/>
<line x1="50.2" y1="621.065" x2="54" y2="621.065" stroke="#222" stroke-width="1.3"/>
<line x1="50.2" y1="602.051" x2="54" y2="602.051" stroke="#222" stroke-width="1.3"/>
<line x1="50.2" y1="583.037" x2="54" y2="583.037" stroke="#222" stroke-width="1.3"/>
<line x1="50.2" y1="564.023" x2="54" y2="564.023" stroke="#222" stroke-width="1.3"/>
<line x1="50.2" y1="545.009" x2="54" y2="545.009" stroke="#222" stroke-width="1.3"/>
<line x1="52" y1="669.5999999999999" x2="909" y2="669.5999999999999" stroke="#3a3a3a" stroke-width="1.1"/>
<polyline fill="none" stroke="#55b855" stroke-width="1" points="52.50,667.42 53.00,667.14 53.50,667.94 54.00,667.02 54.50,667.76 55.00,667.49 55.50,666.99 56.00,667.71 56.50,666.96 57.00,667.59 57.50,667.01 58.00,667.05 58.50,667.58 59.00,668.22 59.50,667.10 60.00,667.26 60.50,667.90 61.00,668.42 61.50,667.82 62.00,667.53 62.50,668.46 63.00,666.97 63.50,668.27 64.00,667.36 64.50,667.13 65.00,667.09 65.50,667.39 66.00,668.21 66.50,667.19 67.00,667.83 67.50,667.92 68.00,667.50 68.50,667.78 69.00,667.00 69.50,667.00 70.00,667.23 70.50,667.99 71.00,667.58 71.50,667.40 72.00,667.84 72.50,667.63 73.00,667.38 73.50,668.17 74.00,668.02 74.50,667.29 75.00,667.82 75.50,667.74 76.00,668.30 76.50,668.07 77.00,667.36 77.50,668.47 78.00,667.09 78.50,667.57 79.00,668.11 79.50,667.14 80.00,667.68 80.50,666.96 81.00,667.97 81.50,668.12 82.00,667.82 82.50,668.30 83.00,667.40 83.50,668.01 84.00,667.85 84.50,667.83 85.00,667.63 85.50,668.24 86.00,668.41 86.50,667.66 87.00,667.96 87.50,667.00 88.00,668.02 88.50,667.94 89.00,668.49 89.50,668.22 90.00,667.36 90.50,667.52 91.00,667.97 91.50,666.94 92.00,667.64 92.50,667.17 93.00,667.09 93.50,666.99 94.00,668.13 94.50,667.11 95.00,667.30 95.50,667.53 96.00,668.29 96.50,667.03 97.00,667.62 97.50,667.78 98.00,668.31 98.50,668.21 99.00,668.28 99.50,667.35 100.00,667.56 100.50,667.47 101.00,668.31 101.50,668.43 102.00,667.14 102.50,667.18 103.00,667.27 103.50,667.27 104.00,667.68 104.50,667.84 105.00,667.32 105.50,666.91 106.00,667.57 106.50,667.49 107.00,667.81 107.50,668.42 108.00,668.00 108.50,667.72 109.00,667.89 109.50,667.98 110.00,666.99 110.50,668.34 111.00,668.15 111.50,668.30 112.00,668.18 112.50,667.53 113.00,667.54 113.50,667.07 114.00,667.91 114.50,667.00 115.00,667.01 115.50,667.23 116.00,667.16 116.50,667.44 117.00,666.98 117.50,666.90 118.00,667.14 118.50,667.06 119.00,667.48 119.50,666.94 120.00,668.30 120.50,667.88 121.00,667.14 121.50,667.30 122.00,667.46 122.50,667.48 123.00,667.10 123.50,668.26 124.00,668.49 124.50,667.65 125.00,667.67 125.50,667.04 126.00,667.06 126.50,667.45 127.00,667.32 127.50,668.23 128.00,667.16 128.50,666.94 129.00,668.42 129.50,667.75 130.00,667.13 130.50,667.77 131.00,666.94 131.50,667.74 132.00,668.47 132.50,668.28 133.00,668.01 133.50,667.32 134.00,667.49 134.50,667.17 135.00,668.14 135.50,667.75 136.00,668.15 136.50,667.43 137.00,667.26 137.50,668.20 138.00,668.48 138.50,668.26 139.00,668.19 139.50,668.21 140.00,668.08 140.50,667.26 141.00,667.73 141.50,667.47 142.00,666.95 142.50,666.94 143.00,667.35 143.50,667.31 144.00,668.01 144.50,668.43 145.00,667.62 145.50,668.40 146.00,668.48 146.50,668.43 147.00,667.48 147.50,667.25 148.00,667.26 148.50,667.21 149.00,667.23 149.50,667.90 150.00,668.34 150.50,668.24 151.00,667.67 151.50,667.94 152.00,668.18 152.50,667.04 153.00,667.96 153.50,668.36 154.00,668.15 154.50,668.10 155.00,667.66 155.50,667.19 156.00,668.16 156.50,667.43 157.00,668.18 157.50,668.45 158.00,667.53 158.50,667.54 159.00,668.41 159.50,668.06 160.00,667.17 160.50,667.10 161.00,667.14 161.50,668.35 162.00,668.19 162.50,667.13 163.00,668.22 163.50,668.47 164.00,667.95 164.50,667.46 165.00,667.78 165.50,667.11 166.00,666.92 166.50,668.45 167.00,667.94 167.50,667.74 168.00,668.39 168.50,667.59 169.00,668.29 169.50,668.22 170.00,667.24 170.50,667.30 171.00,667.37 171.50,667.28 172.00,667.84 172.50,667.31 173.00,667.57 173.50,667.11 174.00,668.36 174.50,667.47 175.00,667.63 175.50,667.83 176.00,668.35 176.50,667.57 177.00,668.37 177.50,667.70 178.00,667.75 178.50,667.74 179.00,666.93 179.50,667.60 180.00,667.19 180.50,666.91 181.00,668.18 181.50,667.18 182.00,667.66 182.50,668.06 183.00,667.79 183.50,667.42 184.00,667.73 184.50,667.79 185.00,668.15 185.50,667.07 186.00,667.80 186.50,667.30 187.00,667.34 187.50,668.14 188.00,667.71 188.50,667.80 189.00,668.12 189.50,668.36 190.00,667.61 190.50,667.88 191.00,667.71 191.50,667.72 192.00,668.01 192.50,667.62 193.00,667.75 193.50,667.66 194.00,668.41 194.50,668.02 195.00,668.30 195.50,668.41 196.00,667.32 196.50,667.80 197.00,668.41 197.50,668.24 198.00,667.12 198.50,667.09 199.00,667.61 199.50,667.02 200.00,667.28 200.50,667.01 201.00,667.95 201.50,668.08 202.00,668.13 202.50,666.62 203.00,666.80 203.50,665.36 204.00,662.58 204.30,662.81 204.50,663.51 205.00,664.30 205.50,666.96 206.00,666.90 206.50,667.43 207.00,668.39 207.50,668.20 208.00,667.15 208.50,667.59 209.00,667.72 209.50,667.44 210.00,667.21 210.50,667.40 211.00,668.04 211.50,666.86 212.00,667.56 212.50,666.92 213.00,665.01 213.50,662.43 214.00,656.02 214.50,642.43 215.00,620.26 215.50,600.48 216.00,621.41 216.50,643.16 217.00,655.19 217.50,662.32 218.00,665.04 218.50,667.47 219.00,667.11 219.50,667.04 220.00,667.56 220.50,668.35 221.00,668.21 221.50,667.31 222.00,667.14 222.50,668.36 223.00,667.78 223.50,667.92 224.00,666.73 224.50,666.06 225.00,665.44 225.50,661.05 226.00,651.72 226.50,636.03 227.00,607.63 227.50,575.75 227.60,571.03 228.00,594.53 228.50,624.76 229.00,647.36 229.50,658.35 230.00,663.69 230.50,666.38 231.00,667.89 231.50,667.17 232.00,667.06 232.50,667.73 233.00,667.28 233.50,667.07 234.00,667.16 234.50,666.97 235.00,667.20 235.50,667.35 236.00,667.25 236.50,667.78 237.00,666.60 237.50,666.13 238.00,664.31 238.50,663.12 238.60,662.43 239.00,663.81 239.50,664.89 240.00,667.04 240.50,667.31 241.00,667.01 241.50,667.58 242.00,668.37 242.50,667.06 243.00,668.21 243.50,667.59 244.00,667.69 244.50,668.24 245.00,667.53 245.50,667.71 246.00,668.00 246.50,668.47 247.00,667.45 247.50,668.23 248.00,668.03 248.50,667.92 249.00,667.55 249.50,667.46 250.00,666.99 250.50,667.11 251.00,667.01 251.50,668.09 252.00,667.31 252.50,667.16 253.00,667.04 253.50,668.25 254.00,668.29 254.50,667.97 255.00,667.35 255.50,667.29 256.00,667.37 256.50,667.64 257.00,667.15 257.50,667.61 258.00,667.32 258.50,668.44 259.00,668.46 259.50,667.78 260.00,667.29 260.50,668.45 261.00,667.40 261.50,667.47 262.00,666.90 262.50,667.51 263.00,667.66 263.50,667.70 264.00,667.22 264.50,667.71 265.00,666.91 265.50,667.32 266.00,667.04 266.50,667.54 267.00,666.97 267.50,666.94 268.00,667.39 268.50,667.27 269.00,667.84 269.50,667.75 270.00,668.10 270.50,667.95 271.00,668.05 271.50,668.31 272.00,667.52 272.50,667.42 273.00,668.48 273.50,667.14 274.00,668.06 274.50,667.93 275.00,666.97 275.50,668.24 276.00,668.33 276.50,667.90 277.00,668.07 277.50,668.20 278.00,667.12 278.50,667.74 279.00,667.71 279.50,668.24 280.00,668.19 280.50,668.22 281.00,667.83 281.50,668.33 282.00,667.99 282.50,668.01 283.00,667.27 283.50,666.95 284.00,667.11 284.50,667.48 285.00,667.07 285.50,668.24 286.00,667.79 286.50,667.90 287.00,667.90 287.50,667.99 288.00,667.68 288.50,666.91 289.00,668.18 289.50,668.10 290.00,667.70 290.50,667.76 291.00,667.95 291.50,667.01 292.00,668.08 292.50,667.30 293.00,667.02 293.50,667.32 294.00,668.07 294.50,667.23 295.00,668.08 295.50,668.46 296.00,667.69 296.50,667.51 297.00,667.67 297.50,667.99 298.00,668.13 298.50,667.89 299.00,667.93 299.50,667.02 300.00,667.14 300.50,667.31 301.00,668.09 301.50,667.39 302.00,667.81 302.50,666.92 303.00,667.00 303.50,667.33 304.00,667.98 304.50,668.01 305.00,667.98 305.50,667.37 306.00,667.73 306.50,667.64 307.00,667.65 307.50,667.09 308.00,668.33 308.50,667.22 309.00,668.47 309.50,668.40 310.00,666.93 310.50,667.63 311.00,668.21 311.50,668.45 312.00,667.62 312.50,667.33 313.00,667.24 313.50,668.41 314.00,667.24 314.50,667.83 315.00,667.13 315.50,667.74 316.00,668.42 316.50,667.11 317.00,668.21 317.50,667.71 318.00,668.32 318.50,668.03 319.00,667.27 319.50,668.34 320.00,667.68 320.50,666.94 321.00,666.91 321.50,667.69 322.00,667.62 322.50,667.38 323.00,667.13 323.50,667.45 324.00,667.41 324.50,668.24 325.00,666.90 325.50,668.10 326.00,668.24 326.50,667.09 327.00,668.38 327.50,668.04 328.00,668.34 328.50,667.36 329.00,667.49 329.50,667.52 330.00,668.49 330.50,667.82 331.00,667.43 331.50,667.47 332.00,667.11 332.50,666.53 333.00,666.25 333.50,666.87 334.00,665.30 334.40,665.90 334.50,664.87 335.00,665.55 335.50,666.60 336.00,666.56 336.50,667.15 337.00,668.26 337.50,668.23 338.00,668.16 338.50,667.89 339.00,668.35 339.50,668.40 340.00,667.77 340.50,668.02 341.00,666.89 341.50,667.86 342.00,667.12 342.50,666.95 343.00,665.40 343.50,662.07 344.00,656.51 344.50,648.84 345.00,633.12 345.50,613.46 346.00,591.12 346.20,585.38 346.50,595.82 347.00,618.69 347.50,636.70 348.00,650.61 348.50,658.20 349.00,663.21 349.50,665.36 350.00,666.18 350.50,666.73 351.00,667.05 351.50,668.28 352.00,667.67 352.50,667.24 353.00,668.35 353.50,668.49 354.00,667.62 354.50,667.12 355.00,667.21 355.50,667.05 356.00,667.45 356.50,667.05 357.00,667.28 357.50,667.31 358.00,667.81 358.50,668.32 359.00,668.10 359.50,667.56 360.00,667.56 360.50,667.74 361.00,667.50 361.50,667.44 362.00,667.00 362.50,667.34 363.00,668.45 363.50,667.10 364.00,667.71 364.50,667.91 365.00,668.28 365.50,667.25 366.00,667.33 366.50,667.30 367.00,667.54 367.50,667.61 368.00,668.43 368.50,668.26 369.00,668.30 369.50,666.93 370.00,666.95 370.50,668.04 371.00,668.33 371.50,667.66 372.00,667.84 372.50,666.90 373.00,667.53 373.50,668.38 374.00,668.22 374.50,668.27 375.00,668.46 375.50,667.30 376.00,667.07 376.50,667.15 377.00,667.74 377.50,667.99 378.00,668.41 378.50,668.05 379.00,667.94 379.50,668.12 380.00,667.63 380.50,667.78 381.00,666.96 381.50,668.15 382.00,667.27 382.50,668.37 383.00,667.93 383.50,667.39 384.00,667.10 384.50,667.30 385.00,667.92 385.50,668.02 386.00,667.08 386.50,667.01 387.00,667.74 387.50,667.83 388.00,667.52 388.50,667.26 389.00,667.86 389.50,666.92 390.00,667.38 390.50,667.64 391.00,668.43 391.50,667.93 392.00,668.31 392.50,667.66 393.00,667.28 393.50,667.30 394.00,668.44 394.50,668.03 395.00,667.39 395.50,666.93 396.00,667.70 396.50,667.98 397.00,667.57 397.50,667.31 398.00,667.97 398.50,668.38 399.00,667.26 399.50,666.95 400.00,667.44 400.50,667.57 401.00,667.99 401.50,667.22 402.00,668.18 402.50,668.08 403.00,667.71 403.50,667.23 404.00,668.45 404.50,667.40 405.00,668.21 405.50,667.27 406.00,667.25 406.50,668.12 407.00,667.37 407.50,668.42 408.00,667.69 408.50,667.20 409.00,667.26 409.50,667.57 410.00,667.96 410.50,668.42 411.00,667.13 411.50,667.53 412.00,667.24 412.50,668.46 413.00,667.13 413.50,666.98 414.00,667.00 414.50,667.53 415.00,668.34 415.50,668.31 416.00,668.07 416.50,668.50 417.00,668.39 417.50,667.43 418.00,667.20 418.50,668.40 419.00,668.09 419.50,666.95 420.00,667.96 420.50,667.51 421.00,667.50 421.50,667.43 422.00,667.17 422.50,666.90 423.00,667.35 423.50,667.46 424.00,668.43 424.50,667.10 425.00,668.44 425.50,667.23 426.00,667.47 426.50,668.21 427.00,668.22 427.50,667.59 428.00,666.98 428.50,667.66 429.00,667.50 429.50,668.37 430.00,667.21 430.50,667.48 431.00,668.34 431.50,666.95 432.00,667.56 432.50,668.20 433.00,668.13 433.50,666.97 434.00,666.96 434.50,667.00 435.00,668.37 435.50,667.31 436.00,668.10 436.50,668.34 437.00,667.44 437.50,667.34 438.00,668.43 438.50,667.89 439.00,667.32 439.50,668.05 440.00,667.41 440.50,667.34 441.00,666.91 441.50,668.11 442.00,668.37 442.50,667.91 443.00,668.41 443.50,666.94 444.00,667.27 444.50,667.66 445.00,668.43 445.50,668.43 446.00,667.52 446.50,667.30 447.00,667.59 447.50,667.69 448.00,668.38 448.50,667.19 449.00,668.18 449.50,668.08 450.00,668.22 450.50,668.14 451.00,667.87 451.50,667.42 452.00,667.41 452.50,667.48 453.00,668.15 453.50,667.03 454.00,667.22 454.50,668.10 455.00,667.30 455.50,667.00 456.00,666.95 456.50,667.78 457.00,667.42 457.50,668.47 458.00,668.31 458.50,668.48 459.00,667.32 459.50,667.03 460.00,667.05 460.50,667.70 461.00,668.04 461.50,667.62 462.00,667.27 462.50,667.57 463.00,667.89 463.50,667.98 464.00,668.09 464.50,668.25 465.00,667.95 465.50,667.07 466.00,668.20 466.50,667.29 467.00,667.65 467.50,667.20 468.00,667.55 468.50,666.31 469.00,665.78 469.50,664.89 470.00,663.54 470.50,663.26 471.00,661.46 471.10,660.92 471.50,661.90 472.00,664.32 472.50,664.86 473.00,665.44 473.50,667.07 474.00,667.28 474.50,668.11 475.00,666.85 475.50,667.52 476.00,668.09 476.50,668.08 477.00,668.07 477.50,666.40 478.00,666.26 478.50,664.97 479.00,663.26 479.50,661.33 480.00,655.40 480.50,647.47 481.00,633.77 481.50,616.45 482.00,592.46 482.50,566.41 482.90,552.14 483.00,554.71 483.50,576.37 484.00,602.56 484.50,623.97 485.00,639.24 485.50,650.42 486.00,657.13 486.50,661.58 487.00,664.21 487.50,666.21 488.00,667.07 488.50,666.75 489.00,666.60 489.50,667.12 490.00,667.57 490.50,666.52 491.00,666.27 491.50,665.37 492.00,665.24 492.50,663.35 493.00,660.72 493.50,658.85 493.80,658.53 494.00,659.23 494.50,661.25 495.00,662.28 495.50,663.96 496.00,665.97 496.50,666.30 497.00,666.60 497.50,666.93 498.00,668.11 498.50,667.11 499.00,667.41 499.50,666.81 500.00,666.37 500.50,666.13 501.00,664.67 501.50,660.85 502.00,656.05 502.50,649.81 503.00,638.39 503.50,623.06 504.00,604.58 504.50,579.77 505.00,555.96 505.30,545.55 505.50,551.94 506.00,574.76 506.50,598.86 507.00,619.49 507.50,636.32 508.00,647.87 508.50,656.00 509.00,659.67 509.50,663.62 510.00,665.08 510.50,666.38 511.00,666.42 511.50,666.98 512.00,667.54 512.50,668.28 513.00,667.03 513.50,667.66 514.00,668.18 514.50,668.44 515.00,667.21 515.50,667.10 516.00,668.41 516.50,668.46 517.00,667.67 517.50,666.99 518.00,668.38 518.50,667.52 519.00,668.35 519.50,667.89 520.00,668.22 520.50,667.16 521.00,668.16 521.50,667.26 522.00,667.55 522.50,668.25 523.00,668.23 523.50,667.19 524.00,667.25 524.50,667.54 525.00,667.73 525.50,667.51 526.00,667.10 526.50,667.30 527.00,668.06 527.50,668.34 528.00,666.97 528.50,667.80 529.00,668.11 529.50,666.96 530.00,668.24 530.50,667.09 531.00,667.86 531.50,667.78 532.00,667.90 532.50,667.39 533.00,667.57 533.50,667.83 534.00,667.58 534.50,667.95 535.00,667.61 535.50,667.60 536.00,666.94 536.50,667.89 537.00,667.68 537.50,667.28 538.00,668.12 538.50,668.15 539.00,667.63 539.50,667.19 540.00,667.66 540.50,667.07 541.00,667.11 541.50,667.59 542.00,667.05 542.50,667.61 543.00,667.72 543.50,666.97 544.00,667.92 544.50,667.03 545.00,668.07 545.50,668.14 546.00,667.72 546.50,666.99 547.00,667.71 547.50,667.50 548.00,668.42 548.50,667.12 549.00,668.27 549.50,668.49 550.00,668.07 550.50,668.20 551.00,667.21 551.50,668.47 552.00,667.69 552.50,668.43 553.00,668.37 553.50,667.16 554.00,668.16 554.50,668.39 555.00,667.00 555.50,667.46 556.00,668.11 556.50,667.15 557.00,668.33 557.50,667.34 558.00,668.21 558.50,667.13 559.00,667.70 559.50,668.37 560.00,667.23 560.50,667.32 561.00,667.71 561.50,667.41 562.00,666.96 562.50,667.19 563.00,667.16 563.50,668.40 564.00,667.99 564.50,668.33 565.00,667.17 565.50,668.16 566.00,667.08 566.50,667.75 567.00,667.92 567.50,667.48 568.00,668.30 568.50,667.79 569.00,667.83 569.50,668.31 570.00,667.07 570.50,668.49 571.00,667.91 571.50,667.53 572.00,668.18 572.50,667.32 573.00,668.48 573.50,667.82 574.00,667.48 574.50,668.12 575.00,667.61 575.50,667.18 576.00,668.09 576.50,666.98 577.00,668.21 577.50,667.31 578.00,667.92 578.50,668.47 579.00,667.84 579.50,667.96 580.00,667.40 580.50,666.90 581.00,666.95 581.50,667.14 582.00,667.89 582.50,667.59 583.00,667.72 583.50,668.33 584.00,667.11 584.50,667.26 585.00,667.94 585.50,666.94 586.00,666.90 586.50,667.47 587.00,667.07 587.50,667.47 588.00,667.26 588.50,667.83 589.00,667.84 589.50,667.23 590.00,667.90 590.50,667.66 591.00,667.12 591.50,668.40 592.00,667.29 592.50,667.14 593.00,667.05 593.50,667.92 594.00,668.29 594.50,668.15 595.00,667.54 595.50,667.32 596.00,666.92 596.50,667.93 597.00,667.80 597.50,667.46 598.00,667.93 598.50,667.61 599.00,668.40 599.50,668.07 600.00,667.30 600.50,668.35 601.00,666.97 601.50,667.75 602.00,667.55 602.50,667.28 603.00,666.99 603.50,668.15 604.00,666.92 604.50,667.78 605.00,668.41 605.50,667.13 606.00,667.22 606.50,667.87 607.00,667.71 607.50,667.93 608.00,668.20 608.50,667.18 609.00,667.40 609.50,667.38 610.00,666.98 610.50,668.32 611.00,668.15 611.50,668.04 612.00,666.91 612.50,668.25 613.00,668.09 613.50,667.64 614.00,668.09 614.50,667.62 615.00,667.26 615.50,667.07 616.00,667.27 616.50,666.96 617.00,667.44 617.50,668.10 618.00,668.01 618.50,668.25 619.00,668.04 619.50,667.33 620.00,667.79 620.50,667.60 621.00,668.16 621.50,667.74 622.00,667.32 622.50,667.93 623.00,668.44 623.50,667.25 624.00,668.31 624.50,666.92 625.00,667.32 625.50,667.28 626.00,668.09 626.50,668.41 627.00,668.09 627.50,667.42 628.00,668.31 628.50,667.43 629.00,667.28 629.50,668.35 630.00,667.91 630.50,668.01 631.00,667.96 631.50,668.47 632.00,667.65 632.50,668.24 633.00,668.02 633.50,668.27 634.00,667.60 634.50,668.06 635.00,667.81 635.50,667.39 636.00,667.23 636.50,667.89 637.00,667.01 637.50,668.33 638.00,667.08 638.50,666.85 639.00,666.92 639.50,668.13 640.00,667.04 640.50,666.47 641.00,665.93 641.50,665.44 642.00,665.76 642.50,664.73 643.00,663.66 643.50,662.38 644.00,660.01 644.30,660.34 644.50,660.27 645.00,662.24 645.50,663.59 646.00,664.91 646.50,664.58 647.00,666.60 647.50,667.20 648.00,667.60 648.50,666.44 649.00,666.64 649.50,666.37 650.00,665.93 650.50,666.65 651.00,665.61 651.50,663.76 652.00,661.66 652.50,657.75 653.00,652.00 653.50,644.45 654.00,634.75 654.50,623.50 655.00,608.10 655.50,593.06 656.00,582.08 656.50,592.58 657.00,608.18 657.50,622.73 658.00,635.71 658.50,644.83 659.00,651.97 659.50,658.13 660.00,660.87 660.50,663.63 661.00,664.47 661.50,663.93 662.00,664.17 662.50,663.01 663.00,661.31 663.50,656.99 664.00,652.04 664.50,643.73 665.00,631.98 665.50,617.93 666.00,597.45 666.50,575.64 667.00,549.89 667.50,531.30 667.60,531.30 668.00,541.49 668.50,566.03 669.00,588.51 669.50,610.15 670.00,626.90 670.50,640.11 671.00,648.40 671.50,655.40 672.00,659.58 672.50,663.28 673.00,664.24 673.50,666.49 674.00,666.11 674.50,666.35 675.00,667.25 675.50,666.88 676.00,666.06 676.50,666.58 677.00,665.24 677.50,665.81 678.00,665.07 678.50,664.70 678.60,664.40 679.00,664.30 679.50,664.97 680.00,665.55 680.50,666.86 681.00,666.00 681.50,667.60 682.00,666.45 682.50,666.91 683.00,667.11 683.50,668.21 684.00,667.62 684.50,667.46 685.00,668.29 685.50,667.26 686.00,667.63 686.50,667.74 687.00,668.10 687.50,668.10 688.00,667.93 688.50,667.46 689.00,667.42 689.50,667.15 690.00,668.25 690.50,667.96 691.00,668.09 691.50,667.17 692.00,667.60 692.50,668.14 693.00,667.83 693.50,667.10 694.00,667.64 694.50,668.32 695.00,667.28 695.50,667.21 696.00,667.38 696.50,668.03 697.00,668.25 697.50,667.15 698.00,667.15 698.50,667.30 699.00,667.42 699.50,667.74 700.00,667.16 700.50,667.42 701.00,667.20 701.50,668.46 702.00,668.07 702.50,667.06 703.00,668.44 703.50,667.06 704.00,667.51 704.50,668.47 705.00,668.17 705.50,668.07 706.00,667.60 706.50,667.21 707.00,667.92 707.50,667.07 708.00,667.23 708.50,667.52 709.00,666.95 709.50,667.54 710.00,668.17 710.50,668.01 711.00,667.70 711.50,667.91 712.00,667.64 712.50,667.13 713.00,667.87 713.50,667.55 714.00,668.09 714.50,668.35 715.00,667.59 715.50,667.82 716.00,668.10 716.50,667.57 717.00,667.27 717.50,668.06 718.00,668.31 718.50,668.14 719.00,668.02 719.50,668.26 720.00,667.99 720.50,667.93 721.00,667.63 721.50,667.40 722.00,667.91 722.50,667.06 723.00,667.57 723.50,668.15 724.00,668.04 724.50,667.91 725.00,667.30 725.50,667.58 726.00,667.63 726.50,667.89 727.00,667.55 727.50,667.98 728.00,668.39 728.50,667.19 729.00,667.95 729.50,668.15 730.00,667.52 730.50,667.68 731.00,668.46 731.50,666.96 732.00,667.77 732.50,667.16 733.00,668.15 733.50,668.40 734.00,667.73 734.50,667.06 735.00,667.82 735.50,667.77 736.00,668.05 736.50,667.72 737.00,667.92 737.50,668.23 738.00,667.73 738.50,667.56 739.00,668.42 739.50,667.24 740.00,667.99 740.50,667.53 741.00,668.12 741.50,667.10 742.00,668.48 742.50,667.47 743.00,666.99 743.50,667.34 744.00,667.54 744.50,666.92 745.00,667.57 745.50,667.57 746.00,668.02 746.50,667.46 747.00,667.32 747.50,667.26 748.00,668.09 748.50,668.40 749.00,667.74 749.50,667.25 750.00,668.18 750.50,667.53 751.00,667.24 751.50,667.11 752.00,668.14 752.50,668.20 753.00,667.91 753.50,667.65 754.00,667.80 754.50,667.26 755.00,668.44 755.50,667.46 756.00,667.92 756.50,668.21 757.00,668.21 757.50,667.65 758.00,667.37 758.50,667.77 759.00,667.10 759.50,668.23 760.00,667.45 760.50,668.24 761.00,667.29 761.50,667.44 762.00,667.21 762.50,667.44 763.00,666.98 763.50,666.57 764.00,667.56 764.50,666.63 765.00,666.27 765.50,665.95 766.00,665.71 766.50,664.99 767.00,664.57 767.50,663.81 768.00,662.64 768.20,663.38 768.50,663.54 769.00,663.00 769.50,665.02 770.00,665.86 770.50,666.26 771.00,665.70 771.50,667.13 772.00,667.01 772.50,666.08 773.00,665.99 773.50,667.23 774.00,666.26 774.50,664.80 775.00,663.32 775.50,661.56 776.00,659.09 776.50,656.29 777.00,650.63 777.50,643.74 778.00,636.55 778.50,626.12 779.00,613.27 779.50,601.87 780.00,590.38 780.20,588.13 780.50,592.35 781.00,604.33 781.50,616.64 782.00,628.24 782.50,637.02 783.00,645.68 783.50,651.44 784.00,656.13 784.50,658.56 785.00,660.94 785.50,660.98 786.00,660.01 786.50,658.36 787.00,655.37 787.50,651.66 788.00,644.97 788.50,637.61 789.00,626.77 789.50,614.54 790.00,599.40 790.50,582.54 791.00,565.87 791.50,550.71 791.60,550.74 792.00,558.96 792.50,575.62 793.00,593.08 793.50,609.36 794.00,622.43 794.50,633.87 795.00,643.76 795.50,649.29 796.00,655.40 796.50,659.22 797.00,660.99 797.50,663.86 798.00,665.32 798.50,666.63 799.00,666.29 799.50,667.74 800.00,667.25 800.50,667.38 801.00,668.16 801.50,666.84 802.00,667.98 802.50,667.86 803.00,667.42 803.50,668.26 804.00,667.48 804.50,667.65 805.00,667.74 805.50,668.13 806.00,667.24 806.50,667.60 807.00,667.58 807.50,667.79 808.00,668.22 808.50,667.37 809.00,668.22 809.50,667.55 810.00,667.71 810.50,667.33 811.00,667.71 811.50,668.46 812.00,667.95 812.50,668.17 813.00,667.43 813.50,667.41 814.00,667.38 814.50,667.84 815.00,667.92 815.50,668.15 816.00,666.96 816.50,668.06 817.00,668.32 817.50,667.77 818.00,666.98 818.50,667.38 819.00,666.91 819.50,667.20 820.00,668.37 820.50,667.87 821.00,667.95 821.50,668.16 822.00,668.36 822.50,667.88 823.00,667.89 823.50,667.90 824.00,668.01 824.50,667.85 825.00,667.99 825.50,667.24 826.00,667.97 826.50,667.63 827.00,668.12 827.50,667.06 828.00,667.19 828.50,666.96 829.00,668.14 829.50,668.36 830.00,667.95 830.50,667.49 831.00,668.22 831.50,668.16 832.00,667.80 832.50,667.31 833.00,667.38 833.50,667.57 834.00,667.41 834.50,667.59 835.00,667.93 835.50,668.39 836.00,666.99 836.50,667.81 837.00,666.96 837.50,667.09 838.00,668.20 838.50,667.82 839.00,668.37 839.50,667.61 840.00,666.92 840.50,667.52 841.00,667.85 841.50,668.40 842.00,668.47 842.50,667.66 843.00,667.56 843.50,667.06 844.00,667.93 844.50,667.24 845.00,667.14 845.50,666.92 846.00,666.91 846.50,667.99 847.00,667.09 847.50,668.45 848.00,667.04 848.50,668.29 849.00,667.11 849.50,666.93 850.00,668.05 850.50,667.29 851.00,668.07 851.50,667.20 852.00,666.98 852.50,668.14 853.00,668.04 853.50,668.27 854.00,668.07 854.50,667.03 855.00,667.91 855.50,668.03 856.00,667.64 856.50,668.39 857.00,667.31 857.50,668.44 858.00,668.05 858.50,666.92 859.00,666.92 859.50,667.94 860.00,668.21 860.50,667.03 861.00,667.40 861.50,668.07 862.00,667.17 862.50,668.28 863.00,667.68 863.50,667.00 864.00,667.49 864.50,667.82 865.00,667.60 865.50,667.98 866.00,667.13 866.50,668.18 867.00,667.48 867.50,667.93 868.00,667.91 868.50,667.57 869.00,667.52 869.50,668.16 870.00,668.41 870.50,668.16 871.00,667.81 871.50,667.37 872.00,667.00 872.50,668.46 873.00,668.03 873.50,668.22 874.00,667.43 874.50,667.87 875.00,668.46 875.50,668.23 876.00,667.86 876.50,667.39 877.00,667.59 877.50,668.32 878.00,667.50 878.50,668.00 879.00,667.86 879.50,668.33 880.00,668.19 880.50,667.35 881.00,666.90 881.50,667.32 882.00,667.58 882.50,667.84 883.00,668.21 883.50,668.32 884.00,666.97 884.50,668.23 885.00,668.20 885.50,668.29 886.00,667.82 886.50,667.34 887.00,668.26 887.50,668.19 888.00,668.00 888.50,668.36 889.00,667.45 889.50,667.04 890.00,667.79 890.50,668.18 891.00,667.22 891.50,668.10 892.00,668.39 892.50,667.27 893.00,667.87 893.50,667.98 894.00,667.64 894.50,667.23 895.00,667.31 895.50,668.10 896.00,668.17 896.50,667.64 897.00,667.04 897.50,668.19 898.00,668.14 898.50,667.27 899.00,667.83 899.50,668.34 900.00,668.32 900.50,667.73 901.00,667.66 901.50,667.84 902.00,667.20 902.50,667.21 903.00,667.19 903.50,668.02 904.00,667.48 904.50,667.80 905.00,667.54 905.50,667.73 906.00,667.14 906.50,666.97 907.00,668.50 907.50,667.50 908.00,667.07 908.50,667.91"/>
<rect x="141.3" y="702.0" width="26.899999999999977" height="8.2" fill="#cbcbcb" stroke="#555" stroke-width="1"/>
<text font-family="Liberation Serif, serif" font-size="9.5" font-weight="bold" fill="#000" transform="translate(141.60000000000002 708.4) scale(0.92 1)">AMEL</text>
<rect x="193.0" y="702.0" width="179.5" height="8.2" fill="#cbcbcb" stroke="#555" stroke-width="1"/>
<text font-family="Liberation Serif, serif" font-size="9.5" font-weight="bold" fill="#000" transform="translate(193.3 708.4) scale(0.92 1)">vWA</text>
<rect x="572.6" y="702.0" width="133.10000000000002" height="8.2" fill="#cbcbcb" stroke="#555" stroke-width="1"/>
<text font-family="Liberation Serif, serif" font-size="9.5" font-weight="bold" fill="#000" transform="translate(572.9 708.4) scale(0.92 1)">TPOX</text>
<path d="M52 866.6 L52 728.5 L909 728.5 L909 866.6" fill="none" stroke="#606060" stroke-width="1.4"/>
<line x1="136.4" y1="726.9" x2="136.4" y2="730.9" stroke="#222" stroke-width="1.1"/>
<line x1="276.85" y1="726.9" x2="276.85" y2="730.9" stroke="#222" stroke-width="1.1"/>
<line x1="417.30000000000007" y1="726.9" x2="417.30000000000007" y2="730.9" stroke="#222" stroke-width="1.1"/>
<line x1="557.75" y1="726.9" x2="557.75" y2="730.9" stroke="#222" stroke-width="1.1"/>
<line x1="698.2" y1="726.9" x2="698.2" y2="730.9" stroke="#222" stroke-width="1.1"/>
<line x1="838.65" y1="726.9" x2="838.65" y2="730.9" stroke="#222" stroke-width="1.1"/>
<text font-family="Liberation Sans, sans-serif" font-size="7" fill="#222" text-anchor="middle" x="136.4" y="723.5">100</text>
<text font-family="Liberation Sans, sans-serif" font-size="7" fill="#222" text-anchor="middle" x="417.30000000000007" y="723.5">200</text>
<text font-family="Liberation Sans, sans-serif" font-size="7" fill="#222" text-anchor="middle" x="698.2" y="723.5">300</text>
<line x1="50.2" y1="865.4" x2="54" y2="865.4" stroke="#222" stroke-width="1.3"/>
<text font-family="Liberation Sans, sans-serif" font-size="7.5" fill="#111" text-anchor="end" transform="translate(48.8 867.9) scale(0.86 1)">0</text>
<line x1="50.2" y1="845.828" x2="54" y2="845.828" stroke="#222" stroke-width="1.3"/>
<text font-family="Liberation Sans, sans-serif" font-size="7.5" fill="#111" text-anchor="end" transform="translate(48.8 848.328) scale(0.86 1)">200</text>
<line x1="50.2" y1="826.256" x2="54" y2="826.256" stroke="#222" stroke-width="1.3"/>
<text font-family="Liberation Sans, sans-serif" font-size="7.5" fill="#111" text-anchor="end" transform="translate(48.8 828.756) scale(0.86 1)">400</text>
<line x1="50.2" y1="806.684" x2="54" y2="806.684" stroke="#222" stroke-width="1.3"/>
<text font-family="Liberation Sans, sans-serif" font-size="7.5" fill="#111" text-anchor="end" transform="translate(48.8 809.184) scale(0.86 1)">600</text>
<line x1="50.2" y1="787.112" x2="54" y2="787.112" stroke="#222" stroke-width="1.3"/>
<text font-family="Liberation Sans, sans-serif" font-size="7.5" fill="#111" text-anchor="end" transform="translate(48.8 789.612) scale(0.86 1)">800</text>
<line x1="50.2" y1="767.54" x2="54" y2="767.54" stroke="#222" stroke-width="1.3"/>
<text font-family="Liberation Sans, sans-serif" font-size="7.5" fill="#111" text-anchor="end" transform="translate(48.8 770.04) scale(0.86 1)">1000</text>
<line x1="50.2" y1="747.968" x2="54" y2="747.968" stroke="#222" stroke-width="1.3"/>
<text font-family="Liberation Sans, sans-serif" font-size="7.5" fill="#111" text-anchor="end" transform="translate(48.8 750.468) scale(0.86 1)">1200</text>
<line x1="50.2" y1="728.396" x2="54" y2="728.396" stroke="#222" stroke-width="1.3"/>
<text font-family="Liberation Sans, sans-serif" font-size="7.5" fill="#111" text-anchor="end" transform="translate(48.8 730.896) scale(0.86 1)">1400</text>
<line x1="50.2" y1="855.614" x2="54" y2="855.614" stroke="#222" stroke-width="1.3"/>
<line x1="50.2" y1="836.042" x2="54" y2="836.042" stroke="#222" stroke-width="1.3"/>
<line x1="50.2" y1="816.47" x2="54" y2="816.47" stroke="#222" stroke-width="1.3"/>
<line x1="50.2" y1="796.898" x2="54" y2="796.898" stroke="#222" stroke-width="1.3"/>
<line x1="50.2" y1="777.326" x2="54" y2="777.326" stroke="#222" stroke-width="1.3"/>
<line x1="50.2" y1="757.754" x2="54" y2="757.754" stroke="#222" stroke-width="1.3"/>
<line x1="50.2" y1="738.182" x2="54" y2="738.182" stroke="#222" stroke-width="1.3"/>
<line x1="52" y1="866.4" x2="909" y2="866.4" stroke="#3a3a3a" stroke-width="1.1"/>
<polyline fill="none" stroke="#111" stroke-width="1" points="52.50,865.40 53.00,865.40 53.50,865.40 54.00,865.40 54.50,865.40 55.00,865.40 55.50,865.40 56.00,865.40 56.50,865.40 57.00,865.40 57.50,865.40 58.00,865.40 58.50,865.40 59.00,865.40 59.50,865.40 60.00,865.40 60.50,865.40 61.00,865.40 61.50,865.40 62.00,865.40 62.50,865.40 63.00,865.40 63.50,865.40 64.00,865.40 64.50,865.40 65.00,865.40 65.50,865.40 66.00,865.40 66.50,865.40 67.00,865.40 67.50,865.40 68.00,865.40 68.50,865.40 69.00,865.40 69.50,865.40 70.00,865.40 70.50,865.40 71.00,865.40 71.50,865.40 72.00,865.40 72.50,865.40 73.00,865.40 73.50,865.40 74.00,865.40 74.50,865.40 75.00,865.40 75.50,865.40 76.00,865.40 76.50,865.40 77.00,865.10 77.50,864.73 78.00,864.65 78.50,865.02 79.00,865.40 79.50,865.40 80.00,865.40 80.50,865.40 81.00,865.40 81.50,865.40 82.00,865.40 82.50,865.40 83.00,865.40 83.50,865.40 84.00,865.40 84.50,865.17 85.00,864.80 85.50,864.57 86.00,864.95 86.50,865.32 87.00,865.40 87.50,865.40 88.00,865.40 88.50,865.40 89.00,865.40 89.50,865.40 90.00,865.40 90.50,865.40 91.00,865.10 91.50,864.73 92.00,864.65 92.50,865.02 93.00,865.40 93.50,865.40 94.00,865.40 94.50,865.40 95.00,865.40 95.50,865.40 96.00,865.40 96.50,865.40 97.00,865.40 97.50,865.40 98.00,865.40 98.50,865.40 99.00,865.40 99.50,865.40 100.00,865.40 100.50,865.40 101.00,865.40 101.50,865.40 102.00,865.40 102.50,865.40 103.00,865.40 103.50,865.40 104.00,865.40 104.50,865.40 105.00,865.40 105.50,865.40 106.00,865.40 106.50,865.40 107.00,865.40 107.50,865.40 108.00,865.40 108.50,865.40 109.00,865.40 109.50,865.40 110.00,865.40 110.50,865.40 111.00,865.40 111.50,865.40 112.00,865.40 112.50,865.40 113.00,865.40 113.50,865.40 114.00,865.40 114.50,865.40 115.00,865.40 115.50,865.32 116.00,864.95 116.50,864.57 117.00,864.80 117.50,865.17 118.00,865.40 118.50,865.40 119.00,865.40 119.50,865.40 120.00,865.40 120.50,865.40 121.00,865.40 121.50,865.40 122.00,865.40 122.50,865.40 123.00,865.40 123.50,865.40 124.00,865.40 124.50,865.40 125.00,865.40 125.50,865.40 126.00,865.40 126.50,865.40 127.00,865.40 127.50,865.40 128.00,865.40 128.50,865.40 129.00,865.40 129.50,865.40 130.00,865.40 130.50,865.02 131.00,864.65 131.50,864.73 132.00,865.10 132.50,865.40 133.00,865.40 133.50,865.40 134.00,865.40 134.50,865.40 135.00,865.40 135.50,865.40 136.00,865.40 136.50,865.40 137.00,865.40 137.50,865.40 138.00,865.40 138.50,865.40 139.00,865.40 139.50,865.40 140.00,865.40 140.50,865.40 141.00,865.40 141.50,865.40 142.00,865.39 142.50,865.37 143.00,865.28 143.50,864.96 144.00,863.86 144.50,860.62 145.00,852.44 145.50,835.77 146.00,813.10 146.10,810.40 146.50,826.67 147.00,846.93 147.50,858.15 148.00,862.94 148.50,864.66 149.00,865.20 149.50,865.35 150.00,865.39 150.50,865.40 151.00,865.40 151.50,865.40 152.00,865.40 152.50,865.40 153.00,865.40 153.50,865.40 154.00,865.40 154.50,865.40 155.00,865.40 155.50,865.40 156.00,865.40 156.50,865.40 157.00,865.40 157.50,865.40 158.00,865.40 158.50,865.40 159.00,865.40 159.50,865.40 160.00,865.40 160.50,865.40 161.00,865.40 161.50,865.40 162.00,865.40 162.50,865.40 163.00,865.40 163.50,865.40 164.00,865.40 164.50,865.40 165.00,865.40 165.50,865.40 166.00,865.40 166.50,865.40 167.00,865.40 167.50,865.40 168.00,865.40 168.50,865.40 169.00,865.40 169.50,865.40 170.00,865.40 170.50,865.40 171.00,865.40 171.50,865.40 172.00,865.40 172.50,865.40 173.00,865.40 173.50,865.40 174.00,865.40 174.50,865.40 175.00,865.40 175.50,865.40 176.00,865.40 176.50,865.40 177.00,865.40 177.50,865.40 178.00,865.40 178.50,865.40 179.00,865.40 179.50,865.40 180.00,865.40 180.50,865.40 181.00,865.40 181.50,865.40 182.00,865.40 182.50,865.40 183.00,865.40 183.50,865.40 184.00,865.40 184.50,865.40 185.00,865.40 185.50,865.40 186.00,865.40 186.50,865.40 187.00,865.40 187.50,865.40 188.00,865.40 188.50,865.40 189.00,865.40 189.50,865.40 190.00,865.40 190.50,865.40 191.00,865.40 191.50,865.40 192.00,865.40 192.50,865.40 193.00,865.40 193.50,865.40 194.00,865.40 194.50,865.40 195.00,865.40 195.50,865.40 196.00,865.40 196.50,865.40 197.00,865.40 197.50,865.17 198.00,864.80 198.50,864.57 199.00,864.95 199.50,865.32 200.00,865.40 200.50,865.40 201.00,865.40 201.50,865.40 202.00,865.40 202.50,865.40 203.00,865.40 203.50,865.40 204.00,865.40 204.50,865.40 205.00,865.40 205.50,865.40 206.00,865.40 206.50,865.40 207.00,865.40 207.50,865.40 208.00,865.40 208.50,865.40 209.00,865.40 209.50,865.40 210.00,865.40 210.50,865.40 211.00,865.40 211.50,865.17 212.00,864.80 212.50,864.57 213.00,864.95 213.50,865.32 214.00,865.40 214.50,865.32 215.00,864.95 215.50,864.57 216.00,864.80 216.50,865.17 217.00,865.40 217.50,865.40 218.00,865.40 218.50,865.40 219.00,865.40 219.50,865.40 220.00,865.40 220.50,865.40 221.00,865.40 221.50,865.40 222.00,865.40 222.50,865.40 223.00,865.40 223.50,865.02 224.00,864.65 224.50,864.73 225.00,865.10 225.50,865.40 226.00,865.40 226.50,865.25 227.00,864.88 227.50,864.50 228.00,864.88 228.50,865.25 229.00,865.40 229.50,865.40 230.00,865.40 230.50,865.40 231.00,865.40 231.50,865.40 232.00,865.40 232.50,865.40 233.00,865.40 233.50,865.40 234.00,865.40 234.50,865.40 235.00,865.40 235.50,865.40 236.00,865.40 236.50,865.40 237.00,865.40 237.50,865.40 238.00,865.40 238.50,865.40 239.00,865.40 239.50,865.40 240.00,865.40 240.50,865.40 241.00,865.40 241.50,865.25 242.00,864.87 242.50,864.50 243.00,864.87 243.50,865.25 244.00,865.40 244.50,865.40 245.00,865.40 245.50,865.40 246.00,865.10 246.50,864.72 247.00,864.65 247.50,865.02 248.00,865.40 248.50,865.40 249.00,865.40 249.50,865.40 250.00,865.40 250.50,865.39 251.00,865.37 251.50,865.33 252.00,865.21 252.50,864.95 253.00,864.40 253.50,863.36 254.00,861.70 254.50,859.65 254.70,859.10 255.00,860.04 255.50,862.08 256.00,863.62 256.50,864.54 257.00,865.02 257.50,865.24 258.00,865.34 258.50,865.38 259.00,865.39 259.50,865.40 260.00,865.40 260.50,865.39 261.00,865.38 261.50,865.35 262.00,865.25 262.50,865.00 263.00,864.34 263.50,862.80 264.00,859.42 264.50,852.65 265.00,840.54 265.50,822.17 266.00,802.17 266.10,800.00 266.50,813.68 267.00,833.90 267.50,848.55 268.00,857.22 268.50,861.74 269.00,863.87 269.50,864.80 270.00,865.18 270.50,865.32 271.00,865.37 271.50,865.39 272.00,865.40 272.50,865.40 273.00,865.40 273.50,865.40 274.00,865.40 274.50,865.40 275.00,865.40 275.50,865.40 276.00,865.40 276.50,865.17 277.00,864.80 277.50,864.57 278.00,864.95 278.50,865.32 279.00,865.40 279.50,865.40 280.00,865.40 280.50,865.40 281.00,865.40 281.50,865.40 282.00,865.40 282.50,865.40 283.00,865.40 283.50,865.40 284.00,865.40 284.50,865.40 285.00,865.40 285.50,865.17 286.00,864.80 286.50,864.58 287.00,864.95 287.50,865.33 288.00,865.40 288.50,865.40 289.00,865.40 289.50,865.40 290.00,865.40 290.50,865.40 291.00,865.40 291.50,865.40 292.00,865.40 292.50,865.40 293.00,865.40 293.50,865.40 294.00,865.40 294.50,865.40 295.00,865.40 295.50,865.40 296.00,865.40 296.50,865.40 297.00,865.40 297.50,865.40 298.00,865.40 298.50,865.40 299.00,865.40 299.50,865.40 300.00,865.33 300.50,864.95 301.00,864.58 301.50,864.80 302.00,865.17 302.50,865.40 303.00,865.40 303.50,865.40 304.00,865.40 304.50,865.40 305.00,865.40 305.50,865.40 306.00,865.40 306.50,865.40 307.00,865.40 307.50,865.17 308.00,864.80 308.50,864.58 309.00,864.95 309.50,865.33 310.00,865.40 310.50,865.40 311.00,865.40 311.50,865.40 312.00,865.40 312.50,865.40 313.00,865.40 313.50,865.40 314.00,865.40 314.50,865.40 315.00,865.40 315.50,865.40 316.00,865.40 316.50,865.40 317.00,865.40 317.50,865.40 318.00,865.40 318.50,865.40 319.00,865.40 319.50,865.40 320.00,865.40 320.50,865.40 321.00,865.40 321.50,865.40 322.00,865.40 322.50,865.40 323.00,865.40 323.50,865.40 324.00,865.40 324.50,865.40 325.00,865.40 325.50,865.40 326.00,865.40 326.50,865.40 327.00,865.40 327.50,865.40 328.00,865.40 328.50,865.40 329.00,865.40 329.50,865.40 330.00,865.40 330.50,865.40 331.00,865.40 331.50,865.40 332.00,865.40 332.50,865.40 333.00,865.40 333.50,865.40 334.00,865.40 334.50,865.40 335.00,865.40 335.50,865.40 336.00,865.40 336.50,865.40 337.00,865.40 337.50,865.40 338.00,865.40 338.50,865.40 339.00,865.40 339.50,865.40 340.00,865.40 340.50,865.40 341.00,865.40 341.50,865.40 342.00,865.40 342.50,865.40 343.00,864.20 343.50,864.12 344.00,863.75 344.50,863.38 345.00,863.60 345.50,863.97 346.00,864.20 346.50,864.20 347.00,865.40 347.50,865.40 348.00,865.40 348.50,865.40 349.00,865.40 349.50,865.40 350.00,865.40 350.50,865.40 351.00,865.40 351.50,865.40 352.00,865.40 352.50,865.02 353.00,864.65 353.50,864.73 354.00,865.10 354.50,865.40 355.00,865.40 355.50,865.40 356.00,865.40 356.50,865.40 357.00,865.40 357.50,865.40 358.00,865.40 358.50,865.33 359.00,864.95 359.50,864.58 360.00,864.80 360.50,865.17 361.00,865.40 361.50,865.40 362.00,865.40 362.50,865.40 363.00,865.40 363.50,865.40 364.00,865.40 364.50,865.40 365.00,865.40 365.50,865.40 366.00,865.40 366.50,865.40 367.00,865.40 367.50,865.40 368.00,865.40 368.50,865.10 369.00,864.73 369.50,864.65 370.00,865.02 370.50,865.40 371.00,865.40 371.50,865.40 372.00,865.40 372.50,865.40 373.00,865.40 373.50,865.40 374.00,865.40 374.50,865.40 375.00,865.40 375.50,865.40 376.00,865.40 376.50,865.40 377.00,865.40 377.50,865.40 378.00,865.40 378.50,865.40 379.00,865.40 379.50,865.40 380.00,865.40 380.50,865.02 381.00,864.65 381.50,864.73 382.00,865.10 382.50,865.40 383.00,865.40 383.50,865.40 384.00,865.40 384.50,865.40 385.00,865.40 385.50,865.40 386.00,865.40 386.50,865.40 387.00,865.40 387.50,865.40 388.00,865.40 388.50,865.40 389.00,865.40 389.50,865.40 390.00,865.40 390.50,865.40 391.00,865.40 391.50,865.40 392.00,865.40 392.50,865.40 393.00,865.40 393.50,865.40 394.00,865.40 394.50,865.40 395.00,865.40 395.50,865.40 396.00,865.40 396.50,865.40 397.00,865.40 397.50,865.40 398.00,865.40 398.50,865.40 399.00,865.40 399.50,865.40 400.00,865.40 400.50,865.40 401.00,865.40 401.50,865.40 402.00,865.40 402.50,865.40 403.00,865.40 403.50,865.40 404.00,865.40 404.50,865.40 405.00,865.40 405.50,865.40 406.00,865.25 406.50,864.88 407.00,864.50 407.50,864.88 408.00,865.25 408.50,865.40 409.00,865.40 409.50,865.40 410.00,865.40 410.50,865.10 411.00,864.73 411.50,864.65 412.00,865.02 412.50,865.40 413.00,865.40 413.50,865.40 414.00,865.40 414.50,865.33 415.00,864.95 415.50,864.58 416.00,864.80 416.50,865.17 417.00,865.40 417.50,865.40 418.00,865.40 418.50,865.40 419.00,865.40 419.50,865.40 420.00,865.40 420.50,865.40 421.00,865.40 421.50,865.40 422.00,865.40 422.50,865.40 423.00,865.40 423.50,865.02 424.00,864.65 424.50,864.73 425.00,865.10 425.50,865.40 426.00,865.40 426.50,865.40 427.00,865.40 427.50,865.40 428.00,865.40 428.50,865.40 429.00,865.40 429.50,865.40 430.00,865.40 430.50,865.40 431.00,865.40 431.50,865.40 432.00,865.10 432.50,864.73 433.00,864.65 433.50,865.02 434.00,865.40 434.50,865.40 435.00,865.40 435.50,865.40 436.00,865.40 436.50,865.40 437.00,865.40 437.50,865.40 438.00,865.40 438.50,865.40 439.00,865.40 439.50,865.40 440.00,865.40 440.50,865.40 441.00,865.40 441.50,865.40 442.00,865.40 442.50,865.40 443.00,865.40 443.50,865.40 444.00,865.02 444.50,864.65 445.00,864.73 445.50,865.10 446.00,865.40 446.50,865.40 447.00,865.40 447.50,865.40 448.00,865.40 448.50,865.40 449.00,865.40 449.50,865.40 450.00,865.40 450.50,865.40 451.00,865.40 451.50,865.40 452.00,865.40 452.50,865.40 453.00,865.40 453.50,865.40 454.00,865.40 454.50,865.40 455.00,865.40 455.50,865.40 456.00,865.40 456.50,865.40 457.00,865.40 457.50,865.40 458.00,865.40 458.50,865.40 459.00,865.40 459.50,865.40 460.00,865.40 460.50,865.40 461.00,865.40 461.50,865.40 462.00,865.40 462.50,865.40 463.00,865.40 463.50,865.40 464.00,865.40 464.50,865.40 465.00,865.25 465.50,864.88 466.00,864.50 466.50,864.88 467.00,865.25 467.50,865.40 468.00,865.40 468.50,865.02 469.00,864.65 469.50,864.73 470.00,865.10 470.50,865.40 471.00,865.40 471.50,865.40 472.00,865.40 472.50,865.40 473.00,865.40 473.50,865.40 474.00,865.40 474.50,865.40 475.00,865.40 475.50,865.40 476.00,865.40 476.50,865.40 477.00,865.40 477.50,865.40 478.00,865.40 478.50,865.40 479.00,865.40 479.50,865.40 480.00,865.40 480.50,865.40 481.00,865.33 481.50,864.95 482.00,864.58 482.50,864.80 483.00,865.17 483.50,865.40 484.00,865.40 484.50,865.17 485.00,864.80 485.50,864.58 486.00,864.95 486.50,865.33 487.00,865.40 487.50,865.40 488.00,865.40 488.50,865.40 489.00,865.02 489.50,864.65 490.00,864.73 490.50,865.10 491.00,865.40 491.50,865.40 492.00,865.40 492.50,865.40 493.00,865.40 493.50,865.40 494.00,865.40 494.50,865.40 495.00,865.40 495.50,865.40 496.00,865.40 496.50,865.40 497.00,865.40 497.50,865.40 498.00,865.40 498.50,865.40 499.00,865.40 499.50,865.40 500.00,865.40 500.50,865.40 501.00,865.40 501.50,865.40 502.00,865.40 502.50,865.40 503.00,865.40 503.50,865.40 504.00,865.02 504.50,864.65 505.00,864.73 505.50,865.10 506.00,865.40 506.50,865.40 507.00,865.40 507.50,865.40 508.00,865.40 508.50,865.40 509.00,865.33 509.50,864.95 510.00,864.58 510.50,864.80 511.00,865.17 511.50,865.40 512.00,865.40 512.50,865.40 513.00,865.40 513.50,865.40 514.00,865.40 514.50,865.40 515.00,865.40 515.50,865.40 516.00,865.40 516.50,865.40 517.00,865.40 517.50,865.40 518.00,865.40 518.50,865.40 519.00,865.40 519.50,865.40 520.00,865.40 520.50,865.40 521.00,865.40 521.50,865.40 522.00,865.40 522.50,865.40 523.00,865.40 523.50,865.40 524.00,865.40 524.50,865.40 525.00,865.40 525.50,865.40 526.00,865.40 526.50,865.17 527.00,864.80 527.50,864.58 528.00,864.95 528.50,865.33 529.00,865.40 529.50,865.40 530.00,865.40 530.50,865.40 531.00,865.40 531.50,865.40 532.00,865.40 532.50,865.40 533.00,865.40 533.50,865.40 534.00,865.40 534.50,865.40 535.00,865.40 535.50,865.40 536.00,865.40 536.50,865.40 537.00,865.40 537.50,865.40 538.00,865.40 538.50,865.40 539.00,865.40 539.50,865.40 540.00,865.40 540.50,865.40 541.00,865.40 541.50,865.40 542.00,865.40 542.50,865.40 543.00,865.40 543.50,865.40 544.00,865.40 544.50,865.40 545.00,865.40 545.50,865.40 546.00,865.40 546.50,865.40 547.00,865.40 547.50,865.40 548.00,865.40 548.50,865.40 549.00,865.40 549.50,865.40 550.00,865.40 550.50,865.40 551.00,865.40 551.50,865.40 552.00,865.40 552.50,865.40 553.00,865.40 553.50,865.40 554.00,865.40 554.50,865.40 555.00,865.40 555.50,865.40 556.00,865.40 556.50,865.40 557.00,865.40 557.50,865.40 558.00,865.40 558.50,865.40 559.00,865.40 559.50,865.40 560.00,865.40 560.50,865.40 561.00,865.10 561.50,864.72 562.00,864.65 562.50,865.02 563.00,865.40 563.50,865.40 564.00,865.40 564.50,865.40 565.00,865.40 565.50,865.40 566.00,865.40 566.50,865.40 567.00,865.40 567.50,865.40 568.00,865.40 568.50,865.40 569.00,865.40 569.50,865.17 570.00,864.80 570.50,864.58 571.00,864.95 571.50,865.33 572.00,865.40 572.50,865.40 573.00,865.40 573.50,865.40 574.00,865.40 574.50,865.40 575.00,865.40 575.50,865.40 576.00,865.40 576.50,865.40 577.00,865.40 577.50,865.40 578.00,865.40 578.50,865.40 579.00,865.40 579.50,865.40 580.00,865.40 580.50,865.40 581.00,865.40 581.50,865.40 582.00,865.40 582.50,865.40 583.00,865.40 583.50,865.40 584.00,865.40 584.50,865.40 585.00,865.40 585.50,865.40 586.00,865.40 586.50,865.40 587.00,865.40 587.50,865.40 588.00,865.40 588.50,865.40 589.00,865.40 589.50,865.40 590.00,865.40 590.50,865.40 591.00,865.40 591.50,865.40 592.00,865.40 592.50,865.40 593.00,865.40 593.50,865.39 594.00,865.39 594.50,865.38 595.00,865.36 595.50,865.33 596.00,865.29 596.50,865.22 597.00,865.12 597.50,864.97 598.00,864.77 598.50,864.51 599.00,864.20 599.50,863.88 599.90,863.70 600.00,863.73 600.50,864.00 601.00,864.33 601.50,864.62 602.00,864.85 602.50,865.03 603.00,865.15 603.50,865.22 604.00,865.24 604.50,865.23 605.00,865.15 605.50,865.00 606.00,864.73 606.50,864.28 607.00,863.55 607.50,862.42 608.00,860.69 608.50,858.18 609.00,854.65 609.50,849.95 610.00,844.08 610.50,837.42 611.00,831.25 611.20,829.80 611.50,832.32 612.00,838.77 612.50,845.33 613.00,850.98 613.50,855.43 614.00,858.72 614.50,861.04 615.00,862.58 615.50,863.54 616.00,864.07 616.50,864.25 617.00,864.11 617.50,863.64 618.00,862.74 618.50,861.26 619.00,859.00 619.50,855.66 620.00,850.93 620.50,844.45 621.00,836.00 621.50,825.59 622.00,813.82 622.50,802.49 622.80,798.10 623.00,800.62 623.50,811.43 624.00,823.32 624.50,834.07 625.00,842.93 625.50,849.79 626.00,854.85 626.50,858.46 627.00,860.93 627.50,862.59 628.00,863.66 628.50,864.35 629.00,864.77 629.50,865.03 630.00,865.19 630.50,865.28 631.00,865.33 631.50,865.36 632.00,865.38 632.50,865.39 633.00,865.39 633.50,865.40 634.00,865.40 634.50,865.40 635.00,865.40 635.50,865.40 636.00,865.32 636.50,864.95 637.00,864.57 637.50,864.80 638.00,865.17 638.50,865.40 639.00,865.40 639.50,865.40 640.00,865.40 640.50,865.40 641.00,865.40 641.50,865.40 642.00,865.40 642.50,865.40 643.00,865.40 643.50,865.40 644.00,865.40 644.50,865.40 645.00,865.10 645.50,864.72 646.00,864.65 646.50,865.02 647.00,865.17 647.50,864.80 648.00,864.57 648.50,864.95 649.00,865.32 649.50,865.40 650.00,865.40 650.50,865.40 651.00,865.40 651.50,865.40 652.00,865.40 652.50,865.40 653.00,865.40 653.50,865.40 654.00,865.10 654.50,864.72 655.00,864.65 655.50,865.02 656.00,865.40 656.50,865.40 657.00,865.40 657.50,865.40 658.00,865.25 658.50,864.88 659.00,864.50 659.50,864.88 660.00,865.25 660.50,865.40 661.00,865.40 661.50,865.40 662.00,865.40 662.50,865.02 663.00,864.65 663.50,864.72 664.00,865.10 664.50,865.40 665.00,865.40 665.50,865.40 666.00,865.40 666.50,865.40 667.00,865.40 667.50,865.40 668.00,865.40 668.50,865.40 669.00,865.40 669.50,865.40 670.00,865.40 670.50,865.33 671.00,864.95 671.50,864.58 672.00,864.80 672.50,865.17 673.00,865.40 673.50,865.40 674.00,865.40 674.50,865.40 675.00,865.40 675.50,865.40 676.00,865.40 676.50,865.40 677.00,865.40 677.50,865.40 678.00,865.40 678.50,865.40 679.00,865.40 679.50,865.40 680.00,865.40 680.50,865.40 681.00,865.40 681.50,865.40 682.00,865.10 682.50,864.72 683.00,864.65 683.50,865.02 684.00,865.40 684.50,865.40 685.00,865.40 685.50,865.40 686.00,865.40 686.50,865.40 687.00,865.40 687.50,865.40 688.00,865.40 688.50,865.40 689.00,865.40 689.50,865.40 690.00,865.40 690.50,865.40 691.00,865.40 691.50,865.40 692.00,865.40 692.50,865.40 693.00,865.40 693.50,865.40 694.00,865.40 694.50,865.40 695.00,865.40 695.50,865.40 696.00,865.40 696.50,865.40 697.00,865.40 697.50,865.02 698.00,864.65 698.50,864.72 699.00,865.10 699.50,865.40 700.00,865.40 700.50,865.40 701.00,865.40 701.50,865.40 702.00,865.40 702.50,865.40 703.00,865.40 703.50,865.40 704.00,865.40 704.50,865.40 705.00,865.40 705.50,865.40 706.00,865.40 706.50,865.40 707.00,865.25 707.50,864.88 708.00,864.50 708.50,864.88 709.00,865.25 709.50,865.40 710.00,865.40 710.50,865.40 711.00,865.40 711.50,865.40 712.00,865.40 712.50,865.40 713.00,865.40 713.50,865.40 714.00,865.40 714.50,865.40 715.00,865.40 715.50,865.40 716.00,865.40 716.50,865.40 717.00,865.40 717.50,865.40 718.00,865.40 718.50,865.02 719.00,864.65 719.50,864.72 720.00,865.10 720.50,865.40 721.00,865.40 721.50,865.40 722.00,865.40 722.50,865.40 723.00,865.40 723.50,865.40 724.00,865.40 724.50,865.40 725.00,865.40 725.50,865.40 726.00,865.40 726.50,865.40 727.00,865.40 727.50,865.40 728.00,865.40 728.50,865.40 729.00,865.40 729.50,865.17 730.00,864.80 730.50,864.58 731.00,864.95 731.50,865.33 732.00,865.40 732.50,865.40 733.00,865.40 733.50,865.33 734.00,864.95 734.50,864.58 735.00,864.80 735.50,865.17 736.00,865.40 736.50,865.40 737.00,865.40 737.50,865.40 738.00,865.10 738.50,864.72 739.00,864.65 739.50,865.02 740.00,865.40 740.50,865.40 741.00,865.40 741.50,865.40 742.00,865.25 742.50,864.88 743.00,864.50 743.50,864.88 744.00,865.25 744.50,865.40 745.00,865.40 745.50,865.40 746.00,865.40 746.50,865.40 747.00,865.40 747.50,865.40 748.00,865.40 748.50,865.40 749.00,865.40 749.50,865.40 750.00,865.40 750.50,865.40 751.00,865.40 751.50,865.40 752.00,865.40 752.50,865.40 753.00,865.40 753.50,865.40 754.00,865.40 754.50,865.40 755.00,865.40 755.50,865.40 756.00,865.40 756.50,865.40 757.00,865.40 757.50,865.40 758.00,865.40 758.50,865.40 759.00,865.40 759.50,865.40 760.00,865.40 760.50,865.40 761.00,865.40 761.50,865.40 762.00,865.40 762.50,865.40 763.00,865.40 763.50,865.40 764.00,865.40 764.50,865.40 765.00,865.40 765.50,865.40 766.00,865.40 766.50,865.40 767.00,865.40 767.50,865.40 768.00,865.40 768.50,865.40 769.00,865.40 769.50,865.40 770.00,865.40 770.50,865.40 771.00,865.40 771.50,865.40 772.00,865.40 772.50,865.40 773.00,865.02 773.50,864.65 774.00,864.72 774.50,865.10 775.00,865.40 775.50,865.40 776.00,865.40 776.50,865.40 777.00,865.40 777.50,865.40 778.00,865.40 778.50,865.40 779.00,865.40 779.50,865.40 780.00,865.02 780.50,864.65 781.00,864.72 781.50,865.10 782.00,865.40 782.50,865.40 783.00,865.40 783.50,865.40 784.00,865.40 784.50,865.40 785.00,865.40 785.50,865.10 786.00,864.72 786.50,864.65 787.00,865.02 787.50,865.40 788.00,865.33 788.50,864.95 789.00,864.58 789.50,864.80 790.00,865.17 790.50,865.40 791.00,865.40 791.50,865.40 792.00,865.40 792.50,865.40 793.00,865.40 793.50,865.40 794.00,865.40 794.50,865.40 795.00,865.40 795.50,865.40 796.00,865.40 796.50,865.40 797.00,865.40 797.50,865.40 798.00,865.40 798.50,865.40 799.00,865.40 799.50,865.40 800.00,865.40 800.50,865.40 801.00,865.40 801.50,865.40 802.00,865.40 802.50,865.40 803.00,865.40 803.50,865.40 804.00,865.40 804.50,865.40 805.00,865.40 805.50,865.40 806.00,865.40 806.50,865.40 807.00,865.40 807.50,865.40 808.00,865.40 808.50,865.40 809.00,865.40 809.50,865.40 810.00,865.40 810.50,865.40 811.00,865.40 811.50,865.40 812.00,865.40 812.50,865.40 813.00,865.40 813.50,865.40 814.00,865.40 814.50,865.40 815.00,865.40 815.50,865.40 816.00,865.40 816.50,865.40 817.00,865.40 817.50,865.40 818.00,865.40 818.50,865.40 819.00,865.40 819.50,865.40 820.00,865.40 820.50,865.40 821.00,865.40 821.50,865.40 822.00,865.40 822.50,865.40 823.00,865.40 823.50,865.40 824.00,865.40 824.50,865.40 825.00,865.40 825.50,865.40 826.00,865.40 826.50,865.40 827.00,865.40 827.50,865.40 828.00,865.40 828.50,865.40 829.00,865.40 829.50,865.40 830.00,865.40 830.50,865.40 831.00,865.40 831.50,865.40 832.00,865.40 832.50,865.40 833.00,865.40 833.50,865.40 834.00,865.40 834.50,865.40 835.00,865.40 835.50,865.40 836.00,865.40 836.50,865.40 837.00,865.40 837.50,865.40 838.00,865.40 838.50,865.40 839.00,865.40 839.50,865.40 840.00,865.17 840.50,864.80 841.00,864.58 841.50,864.95 842.00,865.33 842.50,865.40 843.00,865.40 843.50,865.40 844.00,865.40 844.50,865.40 845.00,865.40 845.50,865.40 846.00,865.40 846.50,865.40 847.00,865.40 847.50,865.40 848.00,865.40 848.50,865.40 849.00,865.40 849.50,865.40 850.00,865.40 850.50,865.40 851.00,865.40 851.50,865.40 852.00,865.40 852.50,865.40 853.00,865.40 853.50,865.40 854.00,865.40 854.50,865.40 855.00,865.40 855.50,865.40 856.00,865.40 856.50,865.40 857.00,865.40 857.50,865.40 858.00,865.40 858.50,865.40 859.00,865.40 859.50,865.40 860.00,865.40 860.50,865.40 861.00,865.40 861.50,865.40 862.00,865.40 862.50,865.40 863.00,865.40 863.50,865.40 864.00,865.40 864.50,865.40 865.00,865.40 865.50,865.40 866.00,865.40 866.50,865.40 867.00,865.40 867.50,865.40 868.00,865.40 868.50,865.40 869.00,865.40 869.50,865.40 870.00,865.40 870.50,865.40 871.00,865.40 871.50,865.40 872.00,865.40 872.50,865.40 873.00,865.40 873.50,865.40 874.00,865.40 874.50,865.40 875.00,865.40 875.50,865.40 876.00,865.40 876.50,865.40 877.00,865.40 877.50,865.40 878.00,865.40 878.50,865.40 879.00,865.40 879.50,865.40 880.00,865.40 880.50,865.40 881.00,865.40 881.50,865.40 882.00,865.40 882.50,865.40 883.00,865.40 883.50,865.40 884.00,865.40 884.50,865.40 885.00,865.40 885.50,865.40 886.00,865.40 886.50,865.40 887.00,865.40 887.50,865.40 888.00,865.40 888.50,865.40 889.00,865.40 889.50,865.40 890.00,865.40 890.50,865.40 891.00,865.40 891.50,865.40 892.00,865.40 892.50,865.40 893.00,865.40 893.50,865.40 894.00,865.40 894.50,865.40 895.00,865.40 895.50,865.40 896.00,865.40 896.50,865.40 897.00,865.40 897.50,865.40 898.00,865.40 898.50,865.40 899.00,865.40 899.50,865.40 900.00,865.40 900.50,865.40 901.00,865.40 901.50,865.25 902.00,864.88 902.50,864.50 903.00,864.88 903.50,865.25 904.00,865.40 904.50,865.40 905.00,865.40 905.50,865.40 906.00,865.40 906.50,865.40 907.00,865.40 907.50,865.40 908.00,865.40 908.50,865.40"/>
<text font-family="Liberation Sans, sans-serif" font-size="22" font-weight="bold" fill="#000" transform="translate(1.715 17.648) scale(0.7325 1.0345)">A</text>
<text font-family="Liberation Sans, sans-serif" font-size="20" font-weight="bold" fill="#000" stroke="#000" stroke-width="0.55" transform="translate(36.668 29.505) scale(0.8310 0.9500)">Fluorescein:</text>
<text font-family="Liberation Sans, sans-serif" font-size="20" font-weight="bold" fill="#000" stroke="#000" stroke-width="0.55" transform="translate(99.574 89.037) scale(0.7548 0.9288)">JOE:</text>
<text font-family="Liberation Sans, sans-serif" font-size="20" font-weight="bold" fill="#000" stroke="#000" stroke-width="0.55" transform="translate(93.728 149.774) scale(0.8368 1.0331)">TMR:</text>
<text font-family="Liberation Sans, sans-serif" font-size="20" font-weight="bold" fill="#000" stroke="#000" stroke-width="0.55" transform="translate(96.584 207.464) scale(0.7911 0.9233)">CXR:</text>
<text font-family="Liberation Sans, sans-serif" font-size="20" font-weight="bold" fill="#000" stroke="#000" stroke-width="0.55" transform="translate(64.832 234.942) scale(0.8381 0.9033)">Size (bp)</text>
<text font-family="Liberation Sans, sans-serif" font-size="22" font-weight="bold" fill="#000" transform="translate(1.933 314.424) scale(0.7028 1.0221)">B</text>
<text font-family="Liberation Sans, sans-serif" font-size="15" font-weight="normal" fill="#cfcfcf" transform="translate(277.942 28.760) scale(0.9003 1.1033)">TH01</text>
<text font-family="Liberation Sans, sans-serif" font-size="15" font-weight="normal" fill="#cfcfcf" transform="translate(370.263 28.760) scale(0.9320 1.1033)">D21S11</text>
<text font-family="Liberation Sans, sans-serif" font-size="15" font-weight="normal" fill="#333" transform="translate(200.207 89.515) scale(0.9310 1.0080)">D5S818</text>
<text font-family="Liberation Sans, sans-serif" font-size="15" font-weight="normal" fill="#333" transform="translate(295.271 89.515) scale(0.9234 1.0080)">D13S317</text>
<text font-family="Liberation Sans, sans-serif" font-size="15" font-weight="normal" fill="#333" transform="translate(370.499 89.515) scale(0.9240 1.0080)">D7S820</text>
<text font-family="Liberation Sans, sans-serif" font-size="15" font-weight="normal" fill="#333" transform="translate(461.220 89.515) scale(0.9263 1.0080)">D16S539</text>
<text font-family="Liberation Sans, sans-serif" font-size="15" font-weight="normal" fill="#333" transform="translate(563.506 89.515) scale(0.8972 1.0080)">CSF1PO</text>
<text font-family="Liberation Sans, sans-serif" font-size="15" font-weight="normal" fill="#333" transform="translate(169.496 148.523) scale(0.9200 1.0724)">A</text>
<text font-family="Liberation Sans, sans-serif" font-size="15" font-weight="normal" fill="#333" transform="translate(229.000 148.523) scale(0.9090 1.0724)">vWA</text>
<text font-family="Liberation Sans, sans-serif" font-size="15" font-weight="normal" fill="#333" transform="translate(458.301 147.678) scale(0.8894 1.0518)">TPOX</text>
<text font-family="Liberation Sans, sans-serif" font-size="16" font-weight="normal" fill="#383838" transform="translate(142.914 234.224) scale(1.0473 1.0416)">100</text>
<text font-family="Liberation Sans, sans-serif" font-size="16" font-weight="normal" fill="#383838" transform="translate(322.817 234.002) scale(1.0929 1.0727)">200</text>
<text font-family="Liberation Sans, sans-serif" font-size="16" font-weight="normal" fill="#383838" transform="translate(504.028 234.002) scale(1.0642 1.0727)">300</text>
<text font-family="Liberation Sans, sans-serif" font-size="16" font-weight="normal" fill="#383838" transform="translate(685.727 234.002) scale(1.0521 1.0727)">400</text>
<text font-family="Liberation Sans, sans-serif" font-size="14.5" font-weight="normal" fill="#333" transform="translate(170.000 263.516) scale(1.0034 0.9364)">A = Amelogenin</text>
<text font-family="Liberation Sans, sans-serif" font-size="9.2" fill="#222" transform="translate(735.1 266.4) rotate(-90) scale(0.925 0.92)">7426MA</text>
<text font-family="Liberation Sans, sans-serif" font-size="11.8" fill="#222" transform="translate(926.2 867.6) rotate(-90) scale(1.058 1)">7265TA</text>
</svg></body></html>
